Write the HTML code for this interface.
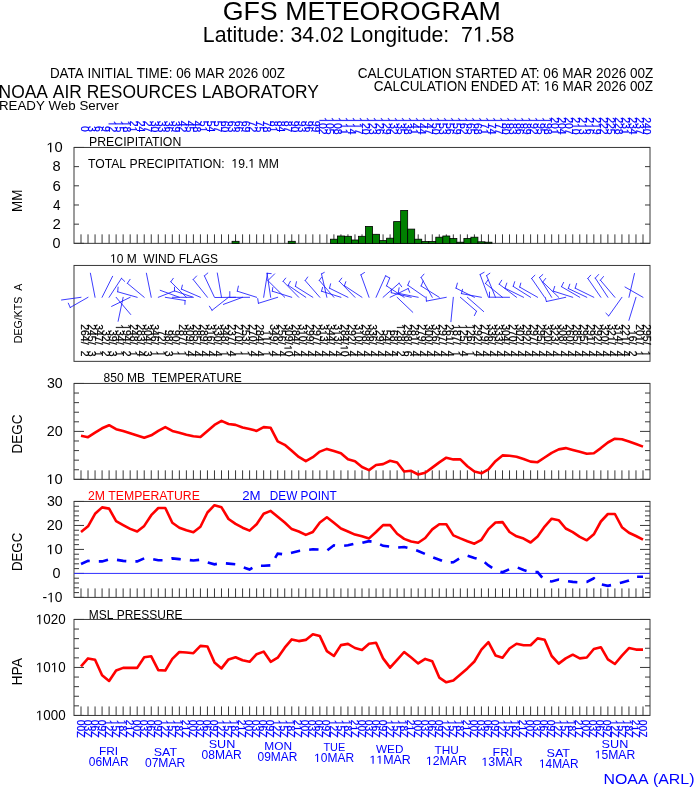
<!DOCTYPE html>
<html><head><meta charset="utf-8"><style>
html,body{margin:0;padding:0;background:#fff;width:694px;height:788px;overflow:hidden}
svg{display:block;will-change:transform}
text{font-family:"Liberation Sans",sans-serif}
</style></head><body>
<svg width="694" height="788" viewBox="0 0 694 788">
<rect width="694" height="788" fill="#fff"/>
<text transform="translate(222.66,19.60) scale(1.0154,1)" font-size="26.377" fill="#000">GFS&#160;METEOROGRAM</text>
<text transform="translate(202.79,41.60) scale(0.9812,1)" font-size="21.739" fill="#000">Latitude:&#160;34.02&#160;Longitude:&#160;&#160;7&#8199;.58</text>
<text transform="translate(49.93,77.85) scale(0.9309,1)" font-size="14.420" fill="#000">DATA&#160;INITIAL&#160;TIME:&#160;06&#160;MAR&#160;2026&#160;00Z</text>
<text transform="translate(-1.39,97.60) scale(0.9852,1)" font-size="17.681" fill="#000">NOAA&#160;AIR&#160;RESOURCES&#160;LABORATORY</text>
<text transform="translate(-1.07,109.80) scale(0.9784,1)" font-size="13.623" fill="#000">READY&#160;Web&#160;Server</text>
<text transform="translate(357.72,77.85) scale(0.9541,1)" font-size="14.203" fill="#000">CALCULATION&#160;STARTED&#160;AT:&#160;06&#160;MAR&#160;2026&#160;00Z</text>
<text transform="translate(373.73,90.80) scale(0.9790,1)" font-size="13.768" fill="#000">CALCULATION&#160;ENDED&#160;AT:&#160;&#8199;6&#160;MAR&#160;2026&#160;00Z</text>
<text transform="translate(80.60,125.90) rotate(90)" font-size="10.4" fill="#0000ff" text-anchor="start" stroke="#0000ff" stroke-width="0.22">0</text>
<text transform="translate(87.62,125.90) rotate(90)" font-size="10.4" fill="#0000ff" text-anchor="start" stroke="#0000ff" stroke-width="0.22">3</text>
<text transform="translate(94.65,125.90) rotate(90)" font-size="10.4" fill="#0000ff" text-anchor="start" stroke="#0000ff" stroke-width="0.22">6</text>
<text transform="translate(101.67,125.90) rotate(90)" font-size="10.4" fill="#0000ff" text-anchor="start" stroke="#0000ff" stroke-width="0.22">9</text>
<text transform="translate(108.70,120.80) rotate(90)" font-size="10.4" fill="#0000ff" text-anchor="start" stroke="#0000ff" stroke-width="0.22">&#8199;2</text>
<text transform="translate(115.72,120.80) rotate(90)" font-size="10.4" fill="#0000ff" text-anchor="start" stroke="#0000ff" stroke-width="0.22">&#8199;5</text>
<text transform="translate(122.75,120.80) rotate(90)" font-size="10.4" fill="#0000ff" text-anchor="start" stroke="#0000ff" stroke-width="0.22">&#8199;8</text>
<text transform="translate(129.78,120.80) rotate(90)" font-size="10.4" fill="#0000ff" text-anchor="start" stroke="#0000ff" stroke-width="0.22">2&#8199;</text>
<text transform="translate(136.80,120.80) rotate(90)" font-size="10.4" fill="#0000ff" text-anchor="start" stroke="#0000ff" stroke-width="0.22">24</text>
<text transform="translate(143.82,120.80) rotate(90)" font-size="10.4" fill="#0000ff" text-anchor="start" stroke="#0000ff" stroke-width="0.22">27</text>
<text transform="translate(150.85,120.80) rotate(90)" font-size="10.4" fill="#0000ff" text-anchor="start" stroke="#0000ff" stroke-width="0.22">30</text>
<text transform="translate(157.88,120.80) rotate(90)" font-size="10.4" fill="#0000ff" text-anchor="start" stroke="#0000ff" stroke-width="0.22">33</text>
<text transform="translate(164.90,120.80) rotate(90)" font-size="10.4" fill="#0000ff" text-anchor="start" stroke="#0000ff" stroke-width="0.22">36</text>
<text transform="translate(171.92,120.80) rotate(90)" font-size="10.4" fill="#0000ff" text-anchor="start" stroke="#0000ff" stroke-width="0.22">39</text>
<text transform="translate(178.95,120.80) rotate(90)" font-size="10.4" fill="#0000ff" text-anchor="start" stroke="#0000ff" stroke-width="0.22">42</text>
<text transform="translate(185.97,120.80) rotate(90)" font-size="10.4" fill="#0000ff" text-anchor="start" stroke="#0000ff" stroke-width="0.22">45</text>
<text transform="translate(193.00,120.80) rotate(90)" font-size="10.4" fill="#0000ff" text-anchor="start" stroke="#0000ff" stroke-width="0.22">48</text>
<text transform="translate(200.03,120.80) rotate(90)" font-size="10.4" fill="#0000ff" text-anchor="start" stroke="#0000ff" stroke-width="0.22">5&#8199;</text>
<text transform="translate(207.05,120.80) rotate(90)" font-size="10.4" fill="#0000ff" text-anchor="start" stroke="#0000ff" stroke-width="0.22">54</text>
<text transform="translate(214.07,120.80) rotate(90)" font-size="10.4" fill="#0000ff" text-anchor="start" stroke="#0000ff" stroke-width="0.22">57</text>
<text transform="translate(221.10,120.80) rotate(90)" font-size="10.4" fill="#0000ff" text-anchor="start" stroke="#0000ff" stroke-width="0.22">60</text>
<text transform="translate(228.12,120.80) rotate(90)" font-size="10.4" fill="#0000ff" text-anchor="start" stroke="#0000ff" stroke-width="0.22">63</text>
<text transform="translate(235.15,120.80) rotate(90)" font-size="10.4" fill="#0000ff" text-anchor="start" stroke="#0000ff" stroke-width="0.22">66</text>
<text transform="translate(242.18,120.80) rotate(90)" font-size="10.4" fill="#0000ff" text-anchor="start" stroke="#0000ff" stroke-width="0.22">69</text>
<text transform="translate(249.20,120.80) rotate(90)" font-size="10.4" fill="#0000ff" text-anchor="start" stroke="#0000ff" stroke-width="0.22">72</text>
<text transform="translate(256.23,120.80) rotate(90)" font-size="10.4" fill="#0000ff" text-anchor="start" stroke="#0000ff" stroke-width="0.22">75</text>
<text transform="translate(263.25,120.80) rotate(90)" font-size="10.4" fill="#0000ff" text-anchor="start" stroke="#0000ff" stroke-width="0.22">78</text>
<text transform="translate(270.28,120.80) rotate(90)" font-size="10.4" fill="#0000ff" text-anchor="start" stroke="#0000ff" stroke-width="0.22">8&#8199;</text>
<text transform="translate(277.30,120.80) rotate(90)" font-size="10.4" fill="#0000ff" text-anchor="start" stroke="#0000ff" stroke-width="0.22">84</text>
<text transform="translate(284.33,120.80) rotate(90)" font-size="10.4" fill="#0000ff" text-anchor="start" stroke="#0000ff" stroke-width="0.22">87</text>
<text transform="translate(291.35,120.80) rotate(90)" font-size="10.4" fill="#0000ff" text-anchor="start" stroke="#0000ff" stroke-width="0.22">90</text>
<text transform="translate(298.38,120.80) rotate(90)" font-size="10.4" fill="#0000ff" text-anchor="start" stroke="#0000ff" stroke-width="0.22">93</text>
<text transform="translate(305.40,120.80) rotate(90)" font-size="10.4" fill="#0000ff" text-anchor="start" stroke="#0000ff" stroke-width="0.22">96</text>
<text transform="translate(312.43,120.80) rotate(90)" font-size="10.4" fill="#0000ff" text-anchor="start" stroke="#0000ff" stroke-width="0.22">99</text>
<text transform="translate(319.45,117.30) rotate(90)" font-size="10.4" fill="#0000ff" text-anchor="start" stroke="#0000ff" stroke-width="0.22">&#8199;02</text>
<text transform="translate(326.48,117.30) rotate(90)" font-size="10.4" fill="#0000ff" text-anchor="start" stroke="#0000ff" stroke-width="0.22">&#8199;05</text>
<text transform="translate(333.50,117.30) rotate(90)" font-size="10.4" fill="#0000ff" text-anchor="start" stroke="#0000ff" stroke-width="0.22">&#8199;08</text>
<text transform="translate(340.53,117.30) rotate(90)" font-size="10.4" fill="#0000ff" text-anchor="start" stroke="#0000ff" stroke-width="0.22">&#8199;&#8199;&#8199;</text>
<text transform="translate(347.55,117.30) rotate(90)" font-size="10.4" fill="#0000ff" text-anchor="start" stroke="#0000ff" stroke-width="0.22">&#8199;&#8199;4</text>
<text transform="translate(354.58,117.30) rotate(90)" font-size="10.4" fill="#0000ff" text-anchor="start" stroke="#0000ff" stroke-width="0.22">&#8199;&#8199;7</text>
<text transform="translate(361.60,117.30) rotate(90)" font-size="10.4" fill="#0000ff" text-anchor="start" stroke="#0000ff" stroke-width="0.22">&#8199;20</text>
<text transform="translate(368.63,117.30) rotate(90)" font-size="10.4" fill="#0000ff" text-anchor="start" stroke="#0000ff" stroke-width="0.22">&#8199;23</text>
<text transform="translate(375.65,117.30) rotate(90)" font-size="10.4" fill="#0000ff" text-anchor="start" stroke="#0000ff" stroke-width="0.22">&#8199;26</text>
<text transform="translate(382.68,117.30) rotate(90)" font-size="10.4" fill="#0000ff" text-anchor="start" stroke="#0000ff" stroke-width="0.22">&#8199;29</text>
<text transform="translate(389.70,117.30) rotate(90)" font-size="10.4" fill="#0000ff" text-anchor="start" stroke="#0000ff" stroke-width="0.22">&#8199;32</text>
<text transform="translate(396.73,117.30) rotate(90)" font-size="10.4" fill="#0000ff" text-anchor="start" stroke="#0000ff" stroke-width="0.22">&#8199;35</text>
<text transform="translate(403.75,117.30) rotate(90)" font-size="10.4" fill="#0000ff" text-anchor="start" stroke="#0000ff" stroke-width="0.22">&#8199;38</text>
<text transform="translate(410.78,117.30) rotate(90)" font-size="10.4" fill="#0000ff" text-anchor="start" stroke="#0000ff" stroke-width="0.22">&#8199;4&#8199;</text>
<text transform="translate(417.80,117.30) rotate(90)" font-size="10.4" fill="#0000ff" text-anchor="start" stroke="#0000ff" stroke-width="0.22">&#8199;44</text>
<text transform="translate(424.83,117.30) rotate(90)" font-size="10.4" fill="#0000ff" text-anchor="start" stroke="#0000ff" stroke-width="0.22">&#8199;47</text>
<text transform="translate(431.85,117.30) rotate(90)" font-size="10.4" fill="#0000ff" text-anchor="start" stroke="#0000ff" stroke-width="0.22">&#8199;50</text>
<text transform="translate(438.88,117.30) rotate(90)" font-size="10.4" fill="#0000ff" text-anchor="start" stroke="#0000ff" stroke-width="0.22">&#8199;53</text>
<text transform="translate(445.90,117.30) rotate(90)" font-size="10.4" fill="#0000ff" text-anchor="start" stroke="#0000ff" stroke-width="0.22">&#8199;56</text>
<text transform="translate(452.93,117.30) rotate(90)" font-size="10.4" fill="#0000ff" text-anchor="start" stroke="#0000ff" stroke-width="0.22">&#8199;59</text>
<text transform="translate(459.95,117.30) rotate(90)" font-size="10.4" fill="#0000ff" text-anchor="start" stroke="#0000ff" stroke-width="0.22">&#8199;62</text>
<text transform="translate(466.98,117.30) rotate(90)" font-size="10.4" fill="#0000ff" text-anchor="start" stroke="#0000ff" stroke-width="0.22">&#8199;65</text>
<text transform="translate(474.00,117.30) rotate(90)" font-size="10.4" fill="#0000ff" text-anchor="start" stroke="#0000ff" stroke-width="0.22">&#8199;68</text>
<text transform="translate(481.03,117.30) rotate(90)" font-size="10.4" fill="#0000ff" text-anchor="start" stroke="#0000ff" stroke-width="0.22">&#8199;7&#8199;</text>
<text transform="translate(488.05,117.30) rotate(90)" font-size="10.4" fill="#0000ff" text-anchor="start" stroke="#0000ff" stroke-width="0.22">&#8199;74</text>
<text transform="translate(495.08,117.30) rotate(90)" font-size="10.4" fill="#0000ff" text-anchor="start" stroke="#0000ff" stroke-width="0.22">&#8199;77</text>
<text transform="translate(502.10,117.30) rotate(90)" font-size="10.4" fill="#0000ff" text-anchor="start" stroke="#0000ff" stroke-width="0.22">&#8199;80</text>
<text transform="translate(509.13,117.30) rotate(90)" font-size="10.4" fill="#0000ff" text-anchor="start" stroke="#0000ff" stroke-width="0.22">&#8199;83</text>
<text transform="translate(516.15,117.30) rotate(90)" font-size="10.4" fill="#0000ff" text-anchor="start" stroke="#0000ff" stroke-width="0.22">&#8199;86</text>
<text transform="translate(523.18,117.30) rotate(90)" font-size="10.4" fill="#0000ff" text-anchor="start" stroke="#0000ff" stroke-width="0.22">&#8199;89</text>
<text transform="translate(530.20,117.30) rotate(90)" font-size="10.4" fill="#0000ff" text-anchor="start" stroke="#0000ff" stroke-width="0.22">&#8199;92</text>
<text transform="translate(537.23,117.30) rotate(90)" font-size="10.4" fill="#0000ff" text-anchor="start" stroke="#0000ff" stroke-width="0.22">&#8199;95</text>
<text transform="translate(544.25,117.30) rotate(90)" font-size="10.4" fill="#0000ff" text-anchor="start" stroke="#0000ff" stroke-width="0.22">&#8199;98</text>
<text transform="translate(551.27,117.30) rotate(90)" font-size="10.4" fill="#0000ff" text-anchor="start" stroke="#0000ff" stroke-width="0.22">20&#8199;</text>
<text transform="translate(558.30,117.30) rotate(90)" font-size="10.4" fill="#0000ff" text-anchor="start" stroke="#0000ff" stroke-width="0.22">204</text>
<text transform="translate(565.33,117.30) rotate(90)" font-size="10.4" fill="#0000ff" text-anchor="start" stroke="#0000ff" stroke-width="0.22">207</text>
<text transform="translate(572.35,117.30) rotate(90)" font-size="10.4" fill="#0000ff" text-anchor="start" stroke="#0000ff" stroke-width="0.22">2&#8199;0</text>
<text transform="translate(579.38,117.30) rotate(90)" font-size="10.4" fill="#0000ff" text-anchor="start" stroke="#0000ff" stroke-width="0.22">2&#8199;3</text>
<text transform="translate(586.40,117.30) rotate(90)" font-size="10.4" fill="#0000ff" text-anchor="start" stroke="#0000ff" stroke-width="0.22">2&#8199;6</text>
<text transform="translate(593.43,117.30) rotate(90)" font-size="10.4" fill="#0000ff" text-anchor="start" stroke="#0000ff" stroke-width="0.22">2&#8199;9</text>
<text transform="translate(600.45,117.30) rotate(90)" font-size="10.4" fill="#0000ff" text-anchor="start" stroke="#0000ff" stroke-width="0.22">222</text>
<text transform="translate(607.48,117.30) rotate(90)" font-size="10.4" fill="#0000ff" text-anchor="start" stroke="#0000ff" stroke-width="0.22">225</text>
<text transform="translate(614.50,117.30) rotate(90)" font-size="10.4" fill="#0000ff" text-anchor="start" stroke="#0000ff" stroke-width="0.22">228</text>
<text transform="translate(621.53,117.30) rotate(90)" font-size="10.4" fill="#0000ff" text-anchor="start" stroke="#0000ff" stroke-width="0.22">23&#8199;</text>
<text transform="translate(628.55,117.30) rotate(90)" font-size="10.4" fill="#0000ff" text-anchor="start" stroke="#0000ff" stroke-width="0.22">234</text>
<text transform="translate(635.58,117.30) rotate(90)" font-size="10.4" fill="#0000ff" text-anchor="start" stroke="#0000ff" stroke-width="0.22">237</text>
<text transform="translate(642.60,117.30) rotate(90)" font-size="10.4" fill="#0000ff" text-anchor="start" stroke="#0000ff" stroke-width="0.22">240</text>
<rect x="74" y="147.45" width="576" height="95.9" fill="none" stroke="#383838" stroke-width="1"/>
<path d="M81.00 243.35V234.35M88.03 243.35V234.35M95.05 243.35V234.35M102.08 243.35V234.35M109.10 243.35V234.35M116.12 243.35V234.35M123.15 243.35V234.35M130.18 243.35V234.35M137.20 243.35V234.35M144.22 243.35V234.35M151.25 243.35V234.35M158.28 243.35V234.35M165.30 243.35V234.35M172.32 243.35V234.35M179.35 243.35V234.35M186.38 243.35V234.35M193.40 243.35V234.35M200.43 243.35V234.35M207.45 243.35V234.35M214.47 243.35V234.35M221.50 243.35V234.35M228.53 243.35V234.35M235.55 243.35V234.35M242.58 243.35V234.35M249.60 243.35V234.35M256.62 243.35V234.35M263.65 243.35V234.35M270.68 243.35V234.35M277.70 243.35V234.35M284.73 243.35V234.35M291.75 243.35V234.35M298.77 243.35V234.35M305.80 243.35V234.35M312.83 243.35V234.35M319.85 243.35V234.35M326.88 243.35V234.35M333.90 243.35V234.35M340.93 243.35V234.35M347.95 243.35V234.35M354.98 243.35V234.35M362.00 243.35V234.35M369.03 243.35V234.35M376.05 243.35V234.35M383.07 243.35V234.35M390.10 243.35V234.35M397.12 243.35V234.35M404.15 243.35V234.35M411.18 243.35V234.35M418.20 243.35V234.35M425.23 243.35V234.35M432.25 243.35V234.35M439.28 243.35V234.35M446.30 243.35V234.35M453.33 243.35V234.35M460.35 243.35V234.35M467.38 243.35V234.35M474.40 243.35V234.35M481.43 243.35V234.35M488.45 243.35V234.35M495.48 243.35V234.35M502.50 243.35V234.35M509.53 243.35V234.35M516.55 243.35V234.35M523.58 243.35V234.35M530.60 243.35V234.35M537.62 243.35V234.35M544.65 243.35V234.35M551.67 243.35V234.35M558.70 243.35V234.35M565.73 243.35V234.35M572.75 243.35V234.35M579.78 243.35V234.35M586.80 243.35V234.35M593.83 243.35V234.35M600.85 243.35V234.35M607.88 243.35V234.35M614.90 243.35V234.35M621.93 243.35V234.35M628.95 243.35V234.35M635.98 243.35V234.35M643.00 243.35V234.35" stroke="#383838" stroke-width="1" fill="none"/>
<path d="M74 243.35h10M650 243.35h-10M74 224.17h5M650 224.17h-5M74 204.99h5M650 204.99h-5M74 185.81h5M650 185.81h-5M74 166.63h5M650 166.63h-5M74 147.45h10M650 147.45h-10" stroke="#383838" stroke-width="1" fill="none"/>
<rect x="232.05" y="241.30" width="7.02" height="2.05" fill="#008000" stroke="#000" stroke-width="0.8"/>
<rect x="288.25" y="241.30" width="7.02" height="2.05" fill="#008000" stroke="#000" stroke-width="0.8"/>
<rect x="330.40" y="239.20" width="7.02" height="4.15" fill="#008000" stroke="#000" stroke-width="0.8"/>
<rect x="337.43" y="236.00" width="7.02" height="7.35" fill="#008000" stroke="#000" stroke-width="0.8"/>
<rect x="344.45" y="236.30" width="7.02" height="7.05" fill="#008000" stroke="#000" stroke-width="0.8"/>
<rect x="351.48" y="240.00" width="7.02" height="3.35" fill="#008000" stroke="#000" stroke-width="0.8"/>
<rect x="358.50" y="236.30" width="7.02" height="7.05" fill="#008000" stroke="#000" stroke-width="0.8"/>
<rect x="365.53" y="226.40" width="7.02" height="16.95" fill="#008000" stroke="#000" stroke-width="0.8"/>
<rect x="372.55" y="234.30" width="7.02" height="9.05" fill="#008000" stroke="#000" stroke-width="0.8"/>
<rect x="379.57" y="240.60" width="7.02" height="2.75" fill="#008000" stroke="#000" stroke-width="0.8"/>
<rect x="386.60" y="238.20" width="7.02" height="5.15" fill="#008000" stroke="#000" stroke-width="0.8"/>
<rect x="393.62" y="221.60" width="7.02" height="21.75" fill="#008000" stroke="#000" stroke-width="0.8"/>
<rect x="400.65" y="210.40" width="7.02" height="32.95" fill="#008000" stroke="#000" stroke-width="0.8"/>
<rect x="407.68" y="229.10" width="7.02" height="14.25" fill="#008000" stroke="#000" stroke-width="0.8"/>
<rect x="414.70" y="239.20" width="7.02" height="4.15" fill="#008000" stroke="#000" stroke-width="0.8"/>
<rect x="421.73" y="241.50" width="7.02" height="1.85" fill="#008000" stroke="#000" stroke-width="0.8"/>
<rect x="428.75" y="241.50" width="7.02" height="1.85" fill="#008000" stroke="#000" stroke-width="0.8"/>
<rect x="435.78" y="237.20" width="7.02" height="6.15" fill="#008000" stroke="#000" stroke-width="0.8"/>
<rect x="442.80" y="236.00" width="7.02" height="7.35" fill="#008000" stroke="#000" stroke-width="0.8"/>
<rect x="449.83" y="238.50" width="7.02" height="4.85" fill="#008000" stroke="#000" stroke-width="0.8"/>
<rect x="456.85" y="242.20" width="7.02" height="1.15" fill="#008000" stroke="#000" stroke-width="0.8"/>
<rect x="463.88" y="238.50" width="7.02" height="4.85" fill="#008000" stroke="#000" stroke-width="0.8"/>
<rect x="470.90" y="237.20" width="7.02" height="6.15" fill="#008000" stroke="#000" stroke-width="0.8"/>
<rect x="477.93" y="241.80" width="7.02" height="1.55" fill="#008000" stroke="#000" stroke-width="0.8"/>
<rect x="484.95" y="242.20" width="7.02" height="1.15" fill="#008000" stroke="#000" stroke-width="0.8"/>
<text transform="translate(52.62,248.11) scale(1.0415,1)" font-size="13.803" fill="#000">0</text>
<text transform="translate(52.45,229.07) scale(1.0714,1)" font-size="14.000" fill="#000">2</text>
<text transform="translate(52.93,210.03) scale(0.9388,1)" font-size="14.412" fill="#000">4</text>
<text transform="translate(52.45,190.57) scale(1.0867,1)" font-size="13.803" fill="#000">6</text>
<text transform="translate(52.61,171.39) scale(1.0636,1)" font-size="13.803" fill="#000">8</text>
<text transform="translate(46.32,152.21) scale(1.0684,1)" font-size="13.803" fill="#000">&#8199;0</text>
<text transform="translate(21.90,211.97) rotate(-90) scale(0.9485,1)" font-size="14.058" fill="#000">MM</text>
<text transform="translate(89.07,145.80) scale(0.9838,1)" font-size="12.464" fill="#000">PRECIPITATION</text>
<text transform="translate(87.91,167.70) scale(0.9796,1)" font-size="12.464" fill="#000">TOTAL&#160;PRECIPITATION:&#160;&#160;&#8199;9.&#8199;&#160;MM</text>
<rect x="74" y="265.45" width="576" height="95.90000000000003" fill="none" stroke="#383838" stroke-width="1"/>
<text transform="translate(110.04,262.70) scale(0.9861,1)" font-size="12.174" fill="#000">&#8199;0&#160;M&#160;&#160;WIND&#160;FLAGS</text>
<text transform="translate(22.19,343.25) rotate(-90) scale(0.9464,1)" font-size="11.216" fill="#000">DEG/KTS&#160;&#160;A</text>
<rect x="74" y="383.45" width="576" height="95.90000000000003" fill="none" stroke="#383838" stroke-width="1"/>
<path d="M81.00 479.35V470.35M88.03 479.35V470.35M95.05 479.35V470.35M102.08 479.35V470.35M109.10 479.35V470.35M116.12 479.35V470.35M123.15 479.35V470.35M130.18 479.35V470.35M137.20 479.35V470.35M144.22 479.35V470.35M151.25 479.35V470.35M158.28 479.35V470.35M165.30 479.35V470.35M172.32 479.35V470.35M179.35 479.35V470.35M186.38 479.35V470.35M193.40 479.35V470.35M200.43 479.35V470.35M207.45 479.35V470.35M214.47 479.35V470.35M221.50 479.35V470.35M228.53 479.35V470.35M235.55 479.35V470.35M242.58 479.35V470.35M249.60 479.35V470.35M256.62 479.35V470.35M263.65 479.35V470.35M270.68 479.35V470.35M277.70 479.35V470.35M284.73 479.35V470.35M291.75 479.35V470.35M298.77 479.35V470.35M305.80 479.35V470.35M312.83 479.35V470.35M319.85 479.35V470.35M326.88 479.35V470.35M333.90 479.35V470.35M340.93 479.35V470.35M347.95 479.35V470.35M354.98 479.35V470.35M362.00 479.35V470.35M369.03 479.35V470.35M376.05 479.35V470.35M383.07 479.35V470.35M390.10 479.35V470.35M397.12 479.35V470.35M404.15 479.35V470.35M411.18 479.35V470.35M418.20 479.35V470.35M425.23 479.35V470.35M432.25 479.35V470.35M439.28 479.35V470.35M446.30 479.35V470.35M453.33 479.35V470.35M460.35 479.35V470.35M467.38 479.35V470.35M474.40 479.35V470.35M481.43 479.35V470.35M488.45 479.35V470.35M495.48 479.35V470.35M502.50 479.35V470.35M509.53 479.35V470.35M516.55 479.35V470.35M523.58 479.35V470.35M530.60 479.35V470.35M537.62 479.35V470.35M544.65 479.35V470.35M551.67 479.35V470.35M558.70 479.35V470.35M565.73 479.35V470.35M572.75 479.35V470.35M579.78 479.35V470.35M586.80 479.35V470.35M593.83 479.35V470.35M600.85 479.35V470.35M607.88 479.35V470.35M614.90 479.35V470.35M621.93 479.35V470.35M628.95 479.35V470.35M635.98 479.35V470.35M643.00 479.35V470.35" stroke="#383838" stroke-width="1" fill="none"/>
<path d="M74 479.35h10M650 479.35h-10M74 469.76h5M650 469.76h-5M74 460.17h5M650 460.17h-5M74 450.58h5M650 450.58h-5M74 440.99h5M650 440.99h-5M74 431.40h10M650 431.40h-10M74 421.81h5M650 421.81h-5M74 412.22h5M650 412.22h-5M74 402.63h5M650 402.63h-5M74 393.04h5M650 393.04h-5M74 383.45h10M650 383.45h-10" stroke="#383838" stroke-width="1" fill="none"/>
<text transform="translate(46.32,484.11) scale(1.0684,1)" font-size="13.803" fill="#000">&#8199;0</text>
<text transform="translate(46.78,436.16) scale(1.0370,1)" font-size="13.803" fill="#000">20</text>
<text transform="translate(46.93,388.21) scale(1.0269,1)" font-size="13.803" fill="#000">30</text>
<text transform="translate(22.06,453.38) rotate(-90) scale(0.9466,1)" font-size="14.225" fill="#000">DEGC</text>
<text transform="translate(103.62,381.80) scale(0.9663,1)" font-size="12.464" fill="#000">850&#160;MB&#160;&#160;TEMPERATURE</text>
<polyline points="81.00,435.80 88.03,437.20 95.05,432.70 102.08,428.30 109.10,425.20 116.12,429.20 123.15,431.00 130.18,433.20 137.20,435.40 144.22,437.70 151.25,435.30 158.28,430.90 165.30,427.10 172.32,430.90 179.35,432.70 186.38,434.70 193.40,436.30 200.43,437.00 207.45,430.90 214.47,424.90 221.50,420.90 228.53,424.00 235.55,424.90 242.58,427.50 249.60,428.90 256.62,430.90 263.65,427.10 270.68,427.80 277.70,441.30 284.73,444.80 291.75,450.80 298.77,456.90 305.80,461.20 312.83,457.20 319.85,451.60 326.88,448.90 333.90,451.10 340.93,453.20 347.95,459.30 354.98,461.20 362.00,467.00 369.03,470.10 376.05,465.00 383.07,464.10 390.10,460.80 397.12,462.50 404.15,471.50 411.18,470.80 418.20,474.50 425.23,472.70 432.25,467.60 439.28,462.40 446.30,457.70 453.33,459.40 460.35,459.40 467.38,466.30 474.40,471.50 481.43,473.30 488.45,469.30 495.48,461.20 502.50,455.40 509.53,455.80 516.55,456.70 523.58,459.00 530.60,461.60 537.62,462.20 544.65,457.50 551.67,452.80 558.70,449.40 565.73,448.10 572.75,450.00 579.78,451.80 586.80,453.70 593.83,453.20 600.85,448.10 607.88,442.50 614.90,438.70 621.93,439.30 628.95,441.50 635.98,444.00 643.00,446.60" fill="none" stroke="#ff0000" stroke-width="2.6" stroke-linejoin="round"/>
<rect x="74" y="501.45" width="576" height="95.94999999999999" fill="none" stroke="#383838" stroke-width="1"/>
<path d="M81.00 597.40V588.40M88.03 597.40V588.40M95.05 597.40V588.40M102.08 597.40V588.40M109.10 597.40V588.40M116.12 597.40V588.40M123.15 597.40V588.40M130.18 597.40V588.40M137.20 597.40V588.40M144.22 597.40V588.40M151.25 597.40V588.40M158.28 597.40V588.40M165.30 597.40V588.40M172.32 597.40V588.40M179.35 597.40V588.40M186.38 597.40V588.40M193.40 597.40V588.40M200.43 597.40V588.40M207.45 597.40V588.40M214.47 597.40V588.40M221.50 597.40V588.40M228.53 597.40V588.40M235.55 597.40V588.40M242.58 597.40V588.40M249.60 597.40V588.40M256.62 597.40V588.40M263.65 597.40V588.40M270.68 597.40V588.40M277.70 597.40V588.40M284.73 597.40V588.40M291.75 597.40V588.40M298.77 597.40V588.40M305.80 597.40V588.40M312.83 597.40V588.40M319.85 597.40V588.40M326.88 597.40V588.40M333.90 597.40V588.40M340.93 597.40V588.40M347.95 597.40V588.40M354.98 597.40V588.40M362.00 597.40V588.40M369.03 597.40V588.40M376.05 597.40V588.40M383.07 597.40V588.40M390.10 597.40V588.40M397.12 597.40V588.40M404.15 597.40V588.40M411.18 597.40V588.40M418.20 597.40V588.40M425.23 597.40V588.40M432.25 597.40V588.40M439.28 597.40V588.40M446.30 597.40V588.40M453.33 597.40V588.40M460.35 597.40V588.40M467.38 597.40V588.40M474.40 597.40V588.40M481.43 597.40V588.40M488.45 597.40V588.40M495.48 597.40V588.40M502.50 597.40V588.40M509.53 597.40V588.40M516.55 597.40V588.40M523.58 597.40V588.40M530.60 597.40V588.40M537.62 597.40V588.40M544.65 597.40V588.40M551.67 597.40V588.40M558.70 597.40V588.40M565.73 597.40V588.40M572.75 597.40V588.40M579.78 597.40V588.40M586.80 597.40V588.40M593.83 597.40V588.40M600.85 597.40V588.40M607.88 597.40V588.40M614.90 597.40V588.40M621.93 597.40V588.40M628.95 597.40V588.40M635.98 597.40V588.40M643.00 597.40V588.40" stroke="#383838" stroke-width="1" fill="none"/>
<path d="M74 597.40h10M650 597.40h-10M74 592.60h5M650 592.60h-5M74 587.80h5M650 587.80h-5M74 583.01h5M650 583.01h-5M74 578.21h5M650 578.21h-5M74 573.41h10M650 573.41h-10M74 568.62h5M650 568.62h-5M74 563.82h5M650 563.82h-5M74 559.02h5M650 559.02h-5M74 554.22h5M650 554.22h-5M74 549.42h10M650 549.42h-10M74 544.63h5M650 544.63h-5M74 539.83h5M650 539.83h-5M74 535.03h5M650 535.03h-5M74 530.24h5M650 530.24h-5M74 525.44h10M650 525.44h-10M74 520.64h5M650 520.64h-5M74 515.84h5M650 515.84h-5M74 511.04h5M650 511.04h-5M74 506.25h5M650 506.25h-5M74 501.45h10M650 501.45h-10" stroke="#383838" stroke-width="1" fill="none"/>
<text transform="translate(42.55,602.16) scale(0.9995,1)" font-size="13.803" fill="#000">-&#8199;0</text>
<text transform="translate(52.62,578.17) scale(1.0415,1)" font-size="13.803" fill="#000">0</text>
<text transform="translate(46.32,554.19) scale(1.0684,1)" font-size="13.803" fill="#000">&#8199;0</text>
<text transform="translate(46.78,530.20) scale(1.0370,1)" font-size="13.803" fill="#000">20</text>
<text transform="translate(46.93,506.21) scale(1.0269,1)" font-size="13.803" fill="#000">30</text>
<text transform="translate(22.06,571.06) rotate(-90) scale(0.9314,1)" font-size="14.225" fill="#000">DEGC</text>
<text transform="translate(87.99,499.70) scale(0.9937,1)" font-size="12.319" fill="#ff0000">2M&#160;TEMPERATURE</text>
<text transform="translate(242.24,499.70) scale(1.0759,1)" font-size="12.319" fill="#0000ff">2M</text>
<text transform="translate(269.75,499.70) scale(0.9592,1)" font-size="12.319" fill="#0000ff">DEW&#160;POINT</text>
<path d="M74 573.41H650" stroke="#3030ff" stroke-width="1"/>
<polyline points="81.00,532.00 88.03,526.30 95.05,513.80 102.08,507.40 109.10,508.60 116.12,521.10 123.15,525.10 130.18,528.90 137.20,531.50 144.22,525.90 151.25,515.20 158.28,508.00 165.30,508.00 172.32,522.80 179.35,527.70 186.38,530.30 193.40,532.20 200.43,526.80 207.45,512.50 214.47,505.20 221.50,507.30 228.53,519.00 235.55,523.90 242.58,527.70 249.60,530.60 256.62,524.20 263.65,513.80 270.68,510.90 277.70,516.80 284.73,522.50 291.75,529.10 298.77,531.50 305.80,534.90 312.83,532.00 319.85,522.50 326.88,517.30 333.90,522.80 340.93,528.50 347.95,531.50 354.98,534.60 362.00,536.30 369.03,538.40 376.05,532.00 383.07,525.10 390.10,525.10 397.12,533.70 404.15,538.90 411.18,541.50 418.20,542.80 425.23,538.00 432.25,529.40 439.28,524.20 446.30,524.20 453.33,535.40 460.35,538.40 467.38,541.20 474.40,543.70 481.43,539.80 488.45,529.10 495.48,522.50 502.50,522.10 509.53,532.00 516.55,536.30 523.58,538.60 530.60,542.50 537.62,536.50 544.65,526.60 551.67,518.70 558.70,520.20 565.73,528.50 572.75,532.20 579.78,536.90 586.80,540.30 593.83,534.30 600.85,521.50 607.88,514.00 614.90,514.00 621.93,527.20 628.95,532.80 635.98,536.00 643.00,539.70" fill="none" stroke="#ff0000" stroke-width="2.6" stroke-linejoin="round"/>
<polyline points="81.00,564.00 88.03,560.90 95.05,561.40 102.08,561.40 109.10,559.30 116.12,559.70 123.15,560.90 130.18,561.40 137.20,561.40 144.22,558.40 151.25,558.80 158.28,560.20 165.30,560.20 172.32,558.40 179.35,559.10 186.38,559.70 193.40,560.50 200.43,559.70 207.45,562.30 214.47,564.30 221.50,563.10 228.53,563.60 235.55,564.30 242.58,567.00 249.60,569.50 256.62,565.70 263.65,565.70 270.68,565.40 277.70,553.60 284.73,554.50 291.75,552.70 298.77,551.00 305.80,550.10 312.83,549.30 319.85,549.60 326.88,550.70 333.90,545.30 340.93,546.20 347.95,545.30 354.98,543.60 362.00,542.90 369.03,541.20 376.05,542.40 383.07,545.80 390.10,546.70 397.12,547.60 404.15,547.00 411.18,548.60 418.20,551.00 425.23,554.00 432.25,557.10 439.28,559.70 446.30,562.60 453.33,562.30 460.35,557.90 467.38,555.70 474.40,557.90 481.43,559.70 488.45,565.40 495.48,570.00 502.50,572.30 509.53,569.20 516.55,567.10 523.58,570.00 530.60,572.10 537.62,572.10 544.65,580.60 551.67,581.50 558.70,579.60 565.73,580.90 572.75,581.90 579.78,582.40 586.80,581.90 593.83,578.30 600.85,584.30 607.88,585.80 614.90,584.30 621.93,582.40 628.95,580.60 635.98,576.80 643.00,576.80" fill="none" stroke="#0000ff" stroke-width="2.6" stroke-dasharray="9.4 9.1"/>
<rect x="74" y="619.45" width="576" height="96.0" fill="none" stroke="#383838" stroke-width="1"/>
<path d="M81.00 715.45V706.45M88.03 715.45V706.45M95.05 715.45V706.45M102.08 715.45V706.45M109.10 715.45V706.45M116.12 715.45V706.45M123.15 715.45V706.45M130.18 715.45V706.45M137.20 715.45V706.45M144.22 715.45V706.45M151.25 715.45V706.45M158.28 715.45V706.45M165.30 715.45V706.45M172.32 715.45V706.45M179.35 715.45V706.45M186.38 715.45V706.45M193.40 715.45V706.45M200.43 715.45V706.45M207.45 715.45V706.45M214.47 715.45V706.45M221.50 715.45V706.45M228.53 715.45V706.45M235.55 715.45V706.45M242.58 715.45V706.45M249.60 715.45V706.45M256.62 715.45V706.45M263.65 715.45V706.45M270.68 715.45V706.45M277.70 715.45V706.45M284.73 715.45V706.45M291.75 715.45V706.45M298.77 715.45V706.45M305.80 715.45V706.45M312.83 715.45V706.45M319.85 715.45V706.45M326.88 715.45V706.45M333.90 715.45V706.45M340.93 715.45V706.45M347.95 715.45V706.45M354.98 715.45V706.45M362.00 715.45V706.45M369.03 715.45V706.45M376.05 715.45V706.45M383.07 715.45V706.45M390.10 715.45V706.45M397.12 715.45V706.45M404.15 715.45V706.45M411.18 715.45V706.45M418.20 715.45V706.45M425.23 715.45V706.45M432.25 715.45V706.45M439.28 715.45V706.45M446.30 715.45V706.45M453.33 715.45V706.45M460.35 715.45V706.45M467.38 715.45V706.45M474.40 715.45V706.45M481.43 715.45V706.45M488.45 715.45V706.45M495.48 715.45V706.45M502.50 715.45V706.45M509.53 715.45V706.45M516.55 715.45V706.45M523.58 715.45V706.45M530.60 715.45V706.45M537.62 715.45V706.45M544.65 715.45V706.45M551.67 715.45V706.45M558.70 715.45V706.45M565.73 715.45V706.45M572.75 715.45V706.45M579.78 715.45V706.45M586.80 715.45V706.45M593.83 715.45V706.45M600.85 715.45V706.45M607.88 715.45V706.45M614.90 715.45V706.45M621.93 715.45V706.45M628.95 715.45V706.45M635.98 715.45V706.45M643.00 715.45V706.45" stroke="#383838" stroke-width="1" fill="none"/>
<path d="M74 715.45h10M650 715.45h-10M74 705.85h5M650 705.85h-5M74 696.25h5M650 696.25h-5M74 686.65h5M650 686.65h-5M74 677.05h5M650 677.05h-5M74 667.45h10M650 667.45h-10M74 657.85h5M650 657.85h-5M74 648.25h5M650 648.25h-5M74 638.65h5M650 638.65h-5M74 629.05h5M650 629.05h-5M74 619.45h10M650 619.45h-10" stroke="#383838" stroke-width="1" fill="none"/>
<text transform="translate(35.83,720.21) scale(0.9694,1)" font-size="13.803" fill="#000">&#8199;000</text>
<text transform="translate(35.83,672.21) scale(0.9694,1)" font-size="13.803" fill="#000">&#8199;0&#8199;0</text>
<text transform="translate(35.83,624.21) scale(0.9694,1)" font-size="13.803" fill="#000">&#8199;020</text>
<text transform="translate(22.20,685.51) rotate(-90) scale(0.9492,1)" font-size="14.638" fill="#000">HPA</text>
<text transform="translate(88.84,618.70) scale(0.9539,1)" font-size="12.536" fill="#000">MSL&#160;PRESSURE</text>
<polyline points="81.00,666.30 88.03,658.40 95.05,659.80 102.08,675.30 109.10,680.90 116.12,670.50 123.15,667.90 130.18,667.90 137.20,667.90 144.22,657.20 151.25,656.30 158.28,670.10 165.30,670.50 172.32,658.90 179.35,652.00 186.38,652.50 193.40,653.20 200.43,645.90 207.45,646.50 214.47,662.40 221.50,668.40 228.53,659.40 235.55,657.20 242.58,660.30 249.60,661.80 256.62,654.20 263.65,651.60 270.68,661.80 277.70,657.70 284.73,647.70 291.75,639.40 298.77,641.10 305.80,639.90 312.83,634.20 319.85,636.10 326.88,651.10 333.90,656.00 340.93,645.10 347.95,643.90 354.98,648.00 362.00,649.90 369.03,643.70 376.05,642.80 383.07,658.40 390.10,667.60 397.12,659.80 404.15,652.00 411.18,657.60 418.20,663.40 425.23,658.90 432.25,661.20 439.28,677.60 446.30,682.30 453.33,680.50 460.35,674.50 467.38,668.40 474.40,661.50 481.43,649.70 488.45,642.10 495.48,655.40 502.50,657.70 509.53,648.50 516.55,643.70 523.58,645.20 530.60,645.30 537.62,638.40 544.65,639.70 551.67,656.00 558.70,663.60 565.73,658.40 572.75,654.70 579.78,658.40 586.80,657.50 593.83,649.00 600.85,647.20 607.88,659.30 614.90,664.00 621.93,655.60 628.95,648.10 635.98,649.60 643.00,649.60" fill="none" stroke="#ff0000" stroke-width="2.6" stroke-linejoin="round"/>
<text transform="translate(76.60,719.80) rotate(90)" font-size="10.3" fill="#0000ff" text-anchor="start" stroke="#0000ff" stroke-width="0.22">00Z</text>
<text transform="translate(83.62,719.80) rotate(90)" font-size="10.3" fill="#0000ff" text-anchor="start" stroke="#0000ff" stroke-width="0.22">03Z</text>
<text transform="translate(90.65,719.80) rotate(90)" font-size="10.3" fill="#0000ff" text-anchor="start" stroke="#0000ff" stroke-width="0.22">06Z</text>
<text transform="translate(97.67,719.80) rotate(90)" font-size="10.3" fill="#0000ff" text-anchor="start" stroke="#0000ff" stroke-width="0.22">09Z</text>
<text transform="translate(104.70,719.80) rotate(90)" font-size="10.3" fill="#0000ff" text-anchor="start" stroke="#0000ff" stroke-width="0.22">&#8199;2Z</text>
<text transform="translate(111.72,719.80) rotate(90)" font-size="10.3" fill="#0000ff" text-anchor="start" stroke="#0000ff" stroke-width="0.22">&#8199;5Z</text>
<text transform="translate(118.75,719.80) rotate(90)" font-size="10.3" fill="#0000ff" text-anchor="start" stroke="#0000ff" stroke-width="0.22">&#8199;8Z</text>
<text transform="translate(125.78,719.80) rotate(90)" font-size="10.3" fill="#0000ff" text-anchor="start" stroke="#0000ff" stroke-width="0.22">2&#8199;Z</text>
<text transform="translate(132.80,719.80) rotate(90)" font-size="10.3" fill="#0000ff" text-anchor="start" stroke="#0000ff" stroke-width="0.22">00Z</text>
<text transform="translate(139.82,719.80) rotate(90)" font-size="10.3" fill="#0000ff" text-anchor="start" stroke="#0000ff" stroke-width="0.22">03Z</text>
<text transform="translate(146.85,719.80) rotate(90)" font-size="10.3" fill="#0000ff" text-anchor="start" stroke="#0000ff" stroke-width="0.22">06Z</text>
<text transform="translate(153.88,719.80) rotate(90)" font-size="10.3" fill="#0000ff" text-anchor="start" stroke="#0000ff" stroke-width="0.22">09Z</text>
<text transform="translate(160.90,719.80) rotate(90)" font-size="10.3" fill="#0000ff" text-anchor="start" stroke="#0000ff" stroke-width="0.22">&#8199;2Z</text>
<text transform="translate(167.92,719.80) rotate(90)" font-size="10.3" fill="#0000ff" text-anchor="start" stroke="#0000ff" stroke-width="0.22">&#8199;5Z</text>
<text transform="translate(174.95,719.80) rotate(90)" font-size="10.3" fill="#0000ff" text-anchor="start" stroke="#0000ff" stroke-width="0.22">&#8199;8Z</text>
<text transform="translate(181.97,719.80) rotate(90)" font-size="10.3" fill="#0000ff" text-anchor="start" stroke="#0000ff" stroke-width="0.22">2&#8199;Z</text>
<text transform="translate(189.00,719.80) rotate(90)" font-size="10.3" fill="#0000ff" text-anchor="start" stroke="#0000ff" stroke-width="0.22">00Z</text>
<text transform="translate(196.03,719.80) rotate(90)" font-size="10.3" fill="#0000ff" text-anchor="start" stroke="#0000ff" stroke-width="0.22">03Z</text>
<text transform="translate(203.05,719.80) rotate(90)" font-size="10.3" fill="#0000ff" text-anchor="start" stroke="#0000ff" stroke-width="0.22">06Z</text>
<text transform="translate(210.07,719.80) rotate(90)" font-size="10.3" fill="#0000ff" text-anchor="start" stroke="#0000ff" stroke-width="0.22">09Z</text>
<text transform="translate(217.10,719.80) rotate(90)" font-size="10.3" fill="#0000ff" text-anchor="start" stroke="#0000ff" stroke-width="0.22">&#8199;2Z</text>
<text transform="translate(224.12,719.80) rotate(90)" font-size="10.3" fill="#0000ff" text-anchor="start" stroke="#0000ff" stroke-width="0.22">&#8199;5Z</text>
<text transform="translate(231.15,719.80) rotate(90)" font-size="10.3" fill="#0000ff" text-anchor="start" stroke="#0000ff" stroke-width="0.22">&#8199;8Z</text>
<text transform="translate(238.18,719.80) rotate(90)" font-size="10.3" fill="#0000ff" text-anchor="start" stroke="#0000ff" stroke-width="0.22">2&#8199;Z</text>
<text transform="translate(245.20,719.80) rotate(90)" font-size="10.3" fill="#0000ff" text-anchor="start" stroke="#0000ff" stroke-width="0.22">00Z</text>
<text transform="translate(252.22,719.80) rotate(90)" font-size="10.3" fill="#0000ff" text-anchor="start" stroke="#0000ff" stroke-width="0.22">03Z</text>
<text transform="translate(259.25,719.80) rotate(90)" font-size="10.3" fill="#0000ff" text-anchor="start" stroke="#0000ff" stroke-width="0.22">06Z</text>
<text transform="translate(266.28,719.80) rotate(90)" font-size="10.3" fill="#0000ff" text-anchor="start" stroke="#0000ff" stroke-width="0.22">09Z</text>
<text transform="translate(273.30,719.80) rotate(90)" font-size="10.3" fill="#0000ff" text-anchor="start" stroke="#0000ff" stroke-width="0.22">&#8199;2Z</text>
<text transform="translate(280.33,719.80) rotate(90)" font-size="10.3" fill="#0000ff" text-anchor="start" stroke="#0000ff" stroke-width="0.22">&#8199;5Z</text>
<text transform="translate(287.35,719.80) rotate(90)" font-size="10.3" fill="#0000ff" text-anchor="start" stroke="#0000ff" stroke-width="0.22">&#8199;8Z</text>
<text transform="translate(294.38,719.80) rotate(90)" font-size="10.3" fill="#0000ff" text-anchor="start" stroke="#0000ff" stroke-width="0.22">2&#8199;Z</text>
<text transform="translate(301.40,719.80) rotate(90)" font-size="10.3" fill="#0000ff" text-anchor="start" stroke="#0000ff" stroke-width="0.22">00Z</text>
<text transform="translate(308.43,719.80) rotate(90)" font-size="10.3" fill="#0000ff" text-anchor="start" stroke="#0000ff" stroke-width="0.22">03Z</text>
<text transform="translate(315.45,719.80) rotate(90)" font-size="10.3" fill="#0000ff" text-anchor="start" stroke="#0000ff" stroke-width="0.22">06Z</text>
<text transform="translate(322.48,719.80) rotate(90)" font-size="10.3" fill="#0000ff" text-anchor="start" stroke="#0000ff" stroke-width="0.22">09Z</text>
<text transform="translate(329.50,719.80) rotate(90)" font-size="10.3" fill="#0000ff" text-anchor="start" stroke="#0000ff" stroke-width="0.22">&#8199;2Z</text>
<text transform="translate(336.53,719.80) rotate(90)" font-size="10.3" fill="#0000ff" text-anchor="start" stroke="#0000ff" stroke-width="0.22">&#8199;5Z</text>
<text transform="translate(343.55,719.80) rotate(90)" font-size="10.3" fill="#0000ff" text-anchor="start" stroke="#0000ff" stroke-width="0.22">&#8199;8Z</text>
<text transform="translate(350.58,719.80) rotate(90)" font-size="10.3" fill="#0000ff" text-anchor="start" stroke="#0000ff" stroke-width="0.22">2&#8199;Z</text>
<text transform="translate(357.60,719.80) rotate(90)" font-size="10.3" fill="#0000ff" text-anchor="start" stroke="#0000ff" stroke-width="0.22">00Z</text>
<text transform="translate(364.63,719.80) rotate(90)" font-size="10.3" fill="#0000ff" text-anchor="start" stroke="#0000ff" stroke-width="0.22">03Z</text>
<text transform="translate(371.65,719.80) rotate(90)" font-size="10.3" fill="#0000ff" text-anchor="start" stroke="#0000ff" stroke-width="0.22">06Z</text>
<text transform="translate(378.68,719.80) rotate(90)" font-size="10.3" fill="#0000ff" text-anchor="start" stroke="#0000ff" stroke-width="0.22">09Z</text>
<text transform="translate(385.70,719.80) rotate(90)" font-size="10.3" fill="#0000ff" text-anchor="start" stroke="#0000ff" stroke-width="0.22">&#8199;2Z</text>
<text transform="translate(392.73,719.80) rotate(90)" font-size="10.3" fill="#0000ff" text-anchor="start" stroke="#0000ff" stroke-width="0.22">&#8199;5Z</text>
<text transform="translate(399.75,719.80) rotate(90)" font-size="10.3" fill="#0000ff" text-anchor="start" stroke="#0000ff" stroke-width="0.22">&#8199;8Z</text>
<text transform="translate(406.78,719.80) rotate(90)" font-size="10.3" fill="#0000ff" text-anchor="start" stroke="#0000ff" stroke-width="0.22">2&#8199;Z</text>
<text transform="translate(413.80,719.80) rotate(90)" font-size="10.3" fill="#0000ff" text-anchor="start" stroke="#0000ff" stroke-width="0.22">00Z</text>
<text transform="translate(420.83,719.80) rotate(90)" font-size="10.3" fill="#0000ff" text-anchor="start" stroke="#0000ff" stroke-width="0.22">03Z</text>
<text transform="translate(427.85,719.80) rotate(90)" font-size="10.3" fill="#0000ff" text-anchor="start" stroke="#0000ff" stroke-width="0.22">06Z</text>
<text transform="translate(434.88,719.80) rotate(90)" font-size="10.3" fill="#0000ff" text-anchor="start" stroke="#0000ff" stroke-width="0.22">09Z</text>
<text transform="translate(441.90,719.80) rotate(90)" font-size="10.3" fill="#0000ff" text-anchor="start" stroke="#0000ff" stroke-width="0.22">&#8199;2Z</text>
<text transform="translate(448.93,719.80) rotate(90)" font-size="10.3" fill="#0000ff" text-anchor="start" stroke="#0000ff" stroke-width="0.22">&#8199;5Z</text>
<text transform="translate(455.95,719.80) rotate(90)" font-size="10.3" fill="#0000ff" text-anchor="start" stroke="#0000ff" stroke-width="0.22">&#8199;8Z</text>
<text transform="translate(462.98,719.80) rotate(90)" font-size="10.3" fill="#0000ff" text-anchor="start" stroke="#0000ff" stroke-width="0.22">2&#8199;Z</text>
<text transform="translate(470.00,719.80) rotate(90)" font-size="10.3" fill="#0000ff" text-anchor="start" stroke="#0000ff" stroke-width="0.22">00Z</text>
<text transform="translate(477.03,719.80) rotate(90)" font-size="10.3" fill="#0000ff" text-anchor="start" stroke="#0000ff" stroke-width="0.22">03Z</text>
<text transform="translate(484.05,719.80) rotate(90)" font-size="10.3" fill="#0000ff" text-anchor="start" stroke="#0000ff" stroke-width="0.22">06Z</text>
<text transform="translate(491.08,719.80) rotate(90)" font-size="10.3" fill="#0000ff" text-anchor="start" stroke="#0000ff" stroke-width="0.22">09Z</text>
<text transform="translate(498.10,719.80) rotate(90)" font-size="10.3" fill="#0000ff" text-anchor="start" stroke="#0000ff" stroke-width="0.22">&#8199;2Z</text>
<text transform="translate(505.13,719.80) rotate(90)" font-size="10.3" fill="#0000ff" text-anchor="start" stroke="#0000ff" stroke-width="0.22">&#8199;5Z</text>
<text transform="translate(512.15,719.80) rotate(90)" font-size="10.3" fill="#0000ff" text-anchor="start" stroke="#0000ff" stroke-width="0.22">&#8199;8Z</text>
<text transform="translate(519.18,719.80) rotate(90)" font-size="10.3" fill="#0000ff" text-anchor="start" stroke="#0000ff" stroke-width="0.22">2&#8199;Z</text>
<text transform="translate(526.20,719.80) rotate(90)" font-size="10.3" fill="#0000ff" text-anchor="start" stroke="#0000ff" stroke-width="0.22">00Z</text>
<text transform="translate(533.23,719.80) rotate(90)" font-size="10.3" fill="#0000ff" text-anchor="start" stroke="#0000ff" stroke-width="0.22">03Z</text>
<text transform="translate(540.25,719.80) rotate(90)" font-size="10.3" fill="#0000ff" text-anchor="start" stroke="#0000ff" stroke-width="0.22">06Z</text>
<text transform="translate(547.27,719.80) rotate(90)" font-size="10.3" fill="#0000ff" text-anchor="start" stroke="#0000ff" stroke-width="0.22">09Z</text>
<text transform="translate(554.30,719.80) rotate(90)" font-size="10.3" fill="#0000ff" text-anchor="start" stroke="#0000ff" stroke-width="0.22">&#8199;2Z</text>
<text transform="translate(561.33,719.80) rotate(90)" font-size="10.3" fill="#0000ff" text-anchor="start" stroke="#0000ff" stroke-width="0.22">&#8199;5Z</text>
<text transform="translate(568.35,719.80) rotate(90)" font-size="10.3" fill="#0000ff" text-anchor="start" stroke="#0000ff" stroke-width="0.22">&#8199;8Z</text>
<text transform="translate(575.38,719.80) rotate(90)" font-size="10.3" fill="#0000ff" text-anchor="start" stroke="#0000ff" stroke-width="0.22">2&#8199;Z</text>
<text transform="translate(582.40,719.80) rotate(90)" font-size="10.3" fill="#0000ff" text-anchor="start" stroke="#0000ff" stroke-width="0.22">00Z</text>
<text transform="translate(589.43,719.80) rotate(90)" font-size="10.3" fill="#0000ff" text-anchor="start" stroke="#0000ff" stroke-width="0.22">03Z</text>
<text transform="translate(596.45,719.80) rotate(90)" font-size="10.3" fill="#0000ff" text-anchor="start" stroke="#0000ff" stroke-width="0.22">06Z</text>
<text transform="translate(603.48,719.80) rotate(90)" font-size="10.3" fill="#0000ff" text-anchor="start" stroke="#0000ff" stroke-width="0.22">09Z</text>
<text transform="translate(610.50,719.80) rotate(90)" font-size="10.3" fill="#0000ff" text-anchor="start" stroke="#0000ff" stroke-width="0.22">&#8199;2Z</text>
<text transform="translate(617.53,719.80) rotate(90)" font-size="10.3" fill="#0000ff" text-anchor="start" stroke="#0000ff" stroke-width="0.22">&#8199;5Z</text>
<text transform="translate(624.55,719.80) rotate(90)" font-size="10.3" fill="#0000ff" text-anchor="start" stroke="#0000ff" stroke-width="0.22">&#8199;8Z</text>
<text transform="translate(631.58,719.80) rotate(90)" font-size="10.3" fill="#0000ff" text-anchor="start" stroke="#0000ff" stroke-width="0.22">2&#8199;Z</text>
<text transform="translate(638.60,719.80) rotate(90)" font-size="10.3" fill="#0000ff" text-anchor="start" stroke="#0000ff" stroke-width="0.22">00Z</text>
<text transform="translate(98.94,755.25) scale(1.0175,1)" font-size="11.739" fill="#0000ff">FRI</text>
<text transform="translate(88.72,765.50) scale(1.0103,1)" font-size="11.884" fill="#0000ff">06MAR</text>
<text transform="translate(153.78,756.40) scale(1.0601,1)" font-size="11.739" fill="#0000ff">SAT</text>
<text transform="translate(144.92,767.30) scale(1.0181,1)" font-size="11.884" fill="#0000ff">07MAR</text>
<text transform="translate(208.67,747.60) scale(1.0756,1)" font-size="11.739" fill="#0000ff">SUN</text>
<text transform="translate(201.62,758.50) scale(1.0129,1)" font-size="11.884" fill="#0000ff">08MAR</text>
<text transform="translate(264.25,749.80) scale(1.0167,1)" font-size="11.739" fill="#0000ff">MON</text>
<text transform="translate(257.52,760.70) scale(1.0077,1)" font-size="11.884" fill="#0000ff">09MAR</text>
<text transform="translate(323.38,750.90) scale(0.9309,1)" font-size="11.739" fill="#0000ff">TUE</text>
<text transform="translate(314.04,762.00) scale(1.0098,1)" font-size="11.884" fill="#0000ff">&#8199;0MAR</text>
<text transform="translate(375.98,752.90) scale(1.0020,1)" font-size="11.739" fill="#0000ff">WED</text>
<text transform="translate(369.41,763.80) scale(1.0458,1)" font-size="11.884" fill="#0000ff">&#8199;&#8199;MAR</text>
<text transform="translate(434.46,753.70) scale(1.0127,1)" font-size="11.739" fill="#0000ff">THU</text>
<text transform="translate(425.91,764.90) scale(1.0361,1)" font-size="11.884" fill="#0000ff">&#8199;2MAR</text>
<text transform="translate(492.59,755.50) scale(1.0707,1)" font-size="11.739" fill="#0000ff">FRI</text>
<text transform="translate(481.41,765.90) scale(1.0439,1)" font-size="11.884" fill="#0000ff">&#8199;3MAR</text>
<text transform="translate(546.57,756.80) scale(1.0695,1)" font-size="11.739" fill="#0000ff">SAT</text>
<text transform="translate(538.95,767.70) scale(1.0019,1)" font-size="11.884" fill="#0000ff">&#8199;4MAR</text>
<text transform="translate(601.57,747.80) scale(1.0799,1)" font-size="11.739" fill="#0000ff">SUN</text>
<text transform="translate(594.73,758.60) scale(1.0229,1)" font-size="11.884" fill="#0000ff">&#8199;5MAR</text>
<text transform="translate(603.53,783.50) scale(1.0446,1)" font-size="15.217" fill="#0000ff">NOAA&#160;(ARL)</text>
<path d="M81.00 297.3L61.50 300.00M88.03 297.3L70.20 307.50M70.20 307.50L68.30 303.20M95.05 297.3L90.40 273.20M102.08 297.3L112.60 276.30M109.10 297.3L121.50 278.30M121.50 278.30L124.70 281.40M116.12 297.3L130.70 314.50M123.15 297.3L118.10 321.30M130.18 297.3L111.60 306.40M137.20 297.3L117.70 291.80M117.70 291.80L118.10 287.10M144.22 297.3L127.40 283.30M127.40 283.30L130.10 279.30M151.25 297.3L146.40 273.20M158.28 297.3L174.50 290.90M165.30 297.3L185.10 300.50M185.10 300.50L184.90 304.40M172.32 297.3L192.30 297.30M179.35 297.3L160.20 290.30M186.38 297.3L170.80 281.80M170.80 281.80L173.30 278.30M193.40 297.3L174.50 290.90M174.50 290.90L174.50 287.20M200.43 297.3L181.40 289.10M181.40 289.10L182.40 285.10M207.45 297.3L193.20 279.50M193.20 279.50L196.60 276.00M214.47 297.3L204.40 275.90M204.40 275.90L207.80 273.00M221.50 297.3L217.30 273.00M228.53 297.3L212.00 310.30M212.00 310.30L209.40 306.20M235.55 297.3L215.30 297.50M242.58 297.3L223.40 304.40M249.60 297.3L229.80 297.40M229.80 297.40L229.80 291.60M256.62 297.3L237.30 291.20M237.30 291.20L238.40 286.10M263.65 297.3L267.50 273.20M270.68 297.3L267.00 273.30M267.00 273.30L271.20 273.60M277.70 297.3L258.40 303.30M258.40 303.30L257.70 298.60M284.73 297.3L267.90 280.60M267.90 280.60L274.60 273.90M291.75 297.3L272.30 291.20M272.30 291.20L272.80 287.50M298.77 297.3L283.10 281.30M283.10 281.30L285.70 278.10M305.80 297.3L288.20 285.30M288.20 285.30L290.40 281.30M312.83 297.3L295.40 286.40M295.40 286.40L296.50 281.70M319.85 297.3L305.20 280.60M305.20 280.60L307.70 277.00M326.88 297.3L321.50 273.90M321.50 273.90L324.30 272.40M333.90 297.3L319.30 280.40M319.30 280.40L321.50 277.40M340.93 297.3L321.50 291.20M321.50 291.20L322.60 287.30M347.95 297.3L329.50 288.20M329.50 288.20L330.60 283.80M354.98 297.3L339.30 281.30M339.30 281.30L341.80 278.10M362.00 297.3L344.40 285.70M344.40 285.70L345.80 281.70M369.03 297.3L360.90 274.80M360.90 274.80L364.50 272.50M376.05 297.3L385.60 275.80M385.60 275.80L389.70 278.00M383.07 297.3L399.10 283.20M399.10 283.20L401.70 286.80M390.10 297.3L408.20 288.50M408.20 288.50L409.70 292.40M397.12 297.3L412.80 312.30M404.15 297.3L386.50 285.90M386.50 285.90L389.70 278.10M411.18 297.3L391.30 292.70M391.30 292.70L391.30 289.50M418.20 297.3L398.20 293.30M398.20 293.30L399.10 287.80M425.23 297.3L407.80 285.20M407.80 285.20L409.50 281.00M432.25 297.3L421.10 277.40M421.10 277.40L424.00 274.10M439.28 297.3L421.10 286.00M421.10 286.00L423.20 281.00M446.30 297.3L426.40 301.10M426.40 301.10L426.10 296.80M453.33 297.3L450.90 321.70M460.35 297.3L476.50 311.20M476.50 311.20L474.40 315.60M467.38 297.3L483.70 311.60M474.40 297.3L456.00 288.20M456.00 288.20L457.40 283.10M481.43 297.3L461.40 293.60M461.40 293.60L462.50 289.30M488.45 297.3L480.10 274.50M480.10 274.50L484.10 272.30M495.48 297.3L486.60 275.60M486.60 275.60L489.90 273.20M502.50 297.3L485.50 283.50M485.50 283.50L488.00 279.90M509.53 297.3L489.50 297.20M489.50 297.20L489.50 292.10M516.55 297.3L499.20 284.20M499.20 284.20L501.70 280.20M523.58 297.3L505.00 288.20M505.00 288.20L506.80 283.10M530.60 297.3L513.20 286.40M513.20 286.40L514.70 281.70M537.62 297.3L519.70 287.10M519.70 287.10L520.80 283.10M544.65 297.3L531.60 278.40M531.60 278.40L534.90 275.20M551.67 297.3L539.50 277.40M539.50 277.40L542.80 274.50M558.70 297.3L542.80 282.00M542.80 282.00L545.70 278.40M565.73 297.3L546.40 301.50M546.40 301.50L545.30 297.50M572.75 297.3L553.20 291.10M553.20 291.10L554.70 286.40M579.78 297.3L561.50 286.70M561.50 286.70L563.60 282.40M586.80 297.3L568.30 288.50M568.30 288.50L569.80 284.20M593.83 297.3L575.20 288.20M575.20 288.20L576.60 283.50M600.85 297.3L587.80 278.40M587.80 278.40L590.70 275.20M607.88 297.3L595.30 278.10M595.30 278.10L598.60 274.50M614.90 297.3L600.40 280.20M600.40 280.20L603.50 276.50M621.93 297.3L608.70 315.90M608.70 315.90L605.90 313.20M628.95 297.3L634.50 273.50M635.98 297.3L628.90 320.30M643.00 297.3L625.00 287.00" stroke="#1a1aff" stroke-width="0.85" fill="none" stroke-linecap="round"/>
<text transform="translate(80.80,341.65) rotate(90)" font-size="10.4" text-anchor="end" stroke="#000" stroke-width="0.22">264</text><text transform="translate(80.80,341.65) rotate(90)" font-size="10.4" stroke="#000" stroke-width="0.22">/</text><text transform="translate(80.80,356.6) rotate(90)" font-size="10.4" text-anchor="end" stroke="#000" stroke-width="0.22">2</text>
<text transform="translate(87.83,341.65) rotate(90)" font-size="10.4" text-anchor="end" stroke="#000" stroke-width="0.22">245</text><text transform="translate(87.83,341.65) rotate(90)" font-size="10.4" stroke="#000" stroke-width="0.22">/</text><text transform="translate(87.83,356.6) rotate(90)" font-size="10.4" text-anchor="end" stroke="#000" stroke-width="0.22">3</text>
<text transform="translate(94.85,341.65) rotate(90)" font-size="10.4" text-anchor="end" stroke="#000" stroke-width="0.22">347</text><text transform="translate(94.85,341.65) rotate(90)" font-size="10.4" stroke="#000" stroke-width="0.22">/</text><text transform="translate(94.85,356.6) rotate(90)" font-size="10.4" text-anchor="end" stroke="#000" stroke-width="0.22">&#8199;</text>
<text transform="translate(101.88,341.65) rotate(90)" font-size="10.4" text-anchor="end" stroke="#000" stroke-width="0.22">32</text><text transform="translate(101.88,341.65) rotate(90)" font-size="10.4" stroke="#000" stroke-width="0.22">/</text><text transform="translate(101.88,356.6) rotate(90)" font-size="10.4" text-anchor="end" stroke="#000" stroke-width="0.22">2</text>
<text transform="translate(108.90,341.65) rotate(90)" font-size="10.4" text-anchor="end" stroke="#000" stroke-width="0.22">39</text><text transform="translate(108.90,341.65) rotate(90)" font-size="10.4" stroke="#000" stroke-width="0.22">/</text><text transform="translate(108.90,356.6) rotate(90)" font-size="10.4" text-anchor="end" stroke="#000" stroke-width="0.22">3</text>
<text transform="translate(115.92,341.65) rotate(90)" font-size="10.4" text-anchor="end" stroke="#000" stroke-width="0.22">&#8199;34</text><text transform="translate(115.92,341.65) rotate(90)" font-size="10.4" stroke="#000" stroke-width="0.22">/</text><text transform="translate(115.92,356.6) rotate(90)" font-size="10.4" text-anchor="end" stroke="#000" stroke-width="0.22">&#8199;</text>
<text transform="translate(122.95,341.65) rotate(90)" font-size="10.4" text-anchor="end" stroke="#000" stroke-width="0.22">&#8199;94</text><text transform="translate(122.95,341.65) rotate(90)" font-size="10.4" stroke="#000" stroke-width="0.22">/</text><text transform="translate(122.95,356.6) rotate(90)" font-size="10.4" text-anchor="end" stroke="#000" stroke-width="0.22">2</text>
<text transform="translate(129.98,341.65) rotate(90)" font-size="10.4" text-anchor="end" stroke="#000" stroke-width="0.22">248</text><text transform="translate(129.98,341.65) rotate(90)" font-size="10.4" stroke="#000" stroke-width="0.22">/</text><text transform="translate(129.98,356.6) rotate(90)" font-size="10.4" text-anchor="end" stroke="#000" stroke-width="0.22">&#8199;</text>
<text transform="translate(137.00,341.65) rotate(90)" font-size="10.4" text-anchor="end" stroke="#000" stroke-width="0.22">283</text><text transform="translate(137.00,341.65) rotate(90)" font-size="10.4" stroke="#000" stroke-width="0.22">/</text><text transform="translate(137.00,356.6) rotate(90)" font-size="10.4" text-anchor="end" stroke="#000" stroke-width="0.22">4</text>
<text transform="translate(144.03,341.65) rotate(90)" font-size="10.4" text-anchor="end" stroke="#000" stroke-width="0.22">304</text><text transform="translate(144.03,341.65) rotate(90)" font-size="10.4" stroke="#000" stroke-width="0.22">/</text><text transform="translate(144.03,356.6) rotate(90)" font-size="10.4" text-anchor="end" stroke="#000" stroke-width="0.22">3</text>
<text transform="translate(151.05,341.65) rotate(90)" font-size="10.4" text-anchor="end" stroke="#000" stroke-width="0.22">346</text><text transform="translate(151.05,341.65) rotate(90)" font-size="10.4" stroke="#000" stroke-width="0.22">/</text><text transform="translate(151.05,356.6) rotate(90)" font-size="10.4" text-anchor="end" stroke="#000" stroke-width="0.22">&#8199;</text>
<text transform="translate(158.08,341.65) rotate(90)" font-size="10.4" text-anchor="end" stroke="#000" stroke-width="0.22">72</text><text transform="translate(158.08,341.65) rotate(90)" font-size="10.4" stroke="#000" stroke-width="0.22">/</text><text transform="translate(158.08,356.6) rotate(90)" font-size="10.4" text-anchor="end" stroke="#000" stroke-width="0.22">&#8199;</text>
<text transform="translate(165.10,341.65) rotate(90)" font-size="10.4" text-anchor="end" stroke="#000" stroke-width="0.22">98</text><text transform="translate(165.10,341.65) rotate(90)" font-size="10.4" stroke="#000" stroke-width="0.22">/</text><text transform="translate(165.10,356.6) rotate(90)" font-size="10.4" text-anchor="end" stroke="#000" stroke-width="0.22">3</text>
<text transform="translate(172.12,341.65) rotate(90)" font-size="10.4" text-anchor="end" stroke="#000" stroke-width="0.22">90</text><text transform="translate(172.12,341.65) rotate(90)" font-size="10.4" stroke="#000" stroke-width="0.22">/</text><text transform="translate(172.12,356.6) rotate(90)" font-size="10.4" text-anchor="end" stroke="#000" stroke-width="0.22">&#8199;</text>
<text transform="translate(179.15,341.65) rotate(90)" font-size="10.4" text-anchor="end" stroke="#000" stroke-width="0.22">287</text><text transform="translate(179.15,341.65) rotate(90)" font-size="10.4" stroke="#000" stroke-width="0.22">/</text><text transform="translate(179.15,356.6) rotate(90)" font-size="10.4" text-anchor="end" stroke="#000" stroke-width="0.22">&#8199;</text>
<text transform="translate(186.18,341.65) rotate(90)" font-size="10.4" text-anchor="end" stroke="#000" stroke-width="0.22">309</text><text transform="translate(186.18,341.65) rotate(90)" font-size="10.4" stroke="#000" stroke-width="0.22">/</text><text transform="translate(186.18,356.6) rotate(90)" font-size="10.4" text-anchor="end" stroke="#000" stroke-width="0.22">4</text>
<text transform="translate(193.20,341.65) rotate(90)" font-size="10.4" text-anchor="end" stroke="#000" stroke-width="0.22">285</text><text transform="translate(193.20,341.65) rotate(90)" font-size="10.4" stroke="#000" stroke-width="0.22">/</text><text transform="translate(193.20,356.6) rotate(90)" font-size="10.4" text-anchor="end" stroke="#000" stroke-width="0.22">4</text>
<text transform="translate(200.23,341.65) rotate(90)" font-size="10.4" text-anchor="end" stroke="#000" stroke-width="0.22">289</text><text transform="translate(200.23,341.65) rotate(90)" font-size="10.4" stroke="#000" stroke-width="0.22">/</text><text transform="translate(200.23,356.6) rotate(90)" font-size="10.4" text-anchor="end" stroke="#000" stroke-width="0.22">4</text>
<text transform="translate(207.25,341.65) rotate(90)" font-size="10.4" text-anchor="end" stroke="#000" stroke-width="0.22">3&#8199;6</text><text transform="translate(207.25,341.65) rotate(90)" font-size="10.4" stroke="#000" stroke-width="0.22">/</text><text transform="translate(207.25,356.6) rotate(90)" font-size="10.4" text-anchor="end" stroke="#000" stroke-width="0.22">4</text>
<text transform="translate(214.28,341.65) rotate(90)" font-size="10.4" text-anchor="end" stroke="#000" stroke-width="0.22">330</text><text transform="translate(214.28,341.65) rotate(90)" font-size="10.4" stroke="#000" stroke-width="0.22">/</text><text transform="translate(214.28,356.6) rotate(90)" font-size="10.4" text-anchor="end" stroke="#000" stroke-width="0.22">4</text>
<text transform="translate(221.30,341.65) rotate(90)" font-size="10.4" text-anchor="end" stroke="#000" stroke-width="0.22">348</text><text transform="translate(221.30,341.65) rotate(90)" font-size="10.4" stroke="#000" stroke-width="0.22">/</text><text transform="translate(221.30,356.6) rotate(90)" font-size="10.4" text-anchor="end" stroke="#000" stroke-width="0.22">&#8199;</text>
<text transform="translate(228.33,341.65) rotate(90)" font-size="10.4" text-anchor="end" stroke="#000" stroke-width="0.22">237</text><text transform="translate(228.33,341.65) rotate(90)" font-size="10.4" stroke="#000" stroke-width="0.22">/</text><text transform="translate(228.33,356.6) rotate(90)" font-size="10.4" text-anchor="end" stroke="#000" stroke-width="0.22">4</text>
<text transform="translate(235.35,341.65) rotate(90)" font-size="10.4" text-anchor="end" stroke="#000" stroke-width="0.22">270</text><text transform="translate(235.35,341.65) rotate(90)" font-size="10.4" stroke="#000" stroke-width="0.22">/</text><text transform="translate(235.35,356.6) rotate(90)" font-size="10.4" text-anchor="end" stroke="#000" stroke-width="0.22">&#8199;</text>
<text transform="translate(242.38,341.65) rotate(90)" font-size="10.4" text-anchor="end" stroke="#000" stroke-width="0.22">253</text><text transform="translate(242.38,341.65) rotate(90)" font-size="10.4" stroke="#000" stroke-width="0.22">/</text><text transform="translate(242.38,356.6) rotate(90)" font-size="10.4" text-anchor="end" stroke="#000" stroke-width="0.22">&#8199;</text>
<text transform="translate(249.40,341.65) rotate(90)" font-size="10.4" text-anchor="end" stroke="#000" stroke-width="0.22">270</text><text transform="translate(249.40,341.65) rotate(90)" font-size="10.4" stroke="#000" stroke-width="0.22">/</text><text transform="translate(249.40,356.6) rotate(90)" font-size="10.4" text-anchor="end" stroke="#000" stroke-width="0.22">4</text>
<text transform="translate(256.43,341.65) rotate(90)" font-size="10.4" text-anchor="end" stroke="#000" stroke-width="0.22">284</text><text transform="translate(256.43,341.65) rotate(90)" font-size="10.4" stroke="#000" stroke-width="0.22">/</text><text transform="translate(256.43,356.6) rotate(90)" font-size="10.4" text-anchor="end" stroke="#000" stroke-width="0.22">4</text>
<text transform="translate(263.45,341.65) rotate(90)" font-size="10.4" text-anchor="end" stroke="#000" stroke-width="0.22">&#8199;&#8199;</text><text transform="translate(263.45,341.65) rotate(90)" font-size="10.4" stroke="#000" stroke-width="0.22">/</text><text transform="translate(263.45,356.6) rotate(90)" font-size="10.4" text-anchor="end" stroke="#000" stroke-width="0.22">&#8199;</text>
<text transform="translate(270.48,341.65) rotate(90)" font-size="10.4" text-anchor="end" stroke="#000" stroke-width="0.22">349</text><text transform="translate(270.48,341.65) rotate(90)" font-size="10.4" stroke="#000" stroke-width="0.22">/</text><text transform="translate(270.48,356.6) rotate(90)" font-size="10.4" text-anchor="end" stroke="#000" stroke-width="0.22">4</text>
<text transform="translate(277.50,341.65) rotate(90)" font-size="10.4" text-anchor="end" stroke="#000" stroke-width="0.22">256</text><text transform="translate(277.50,341.65) rotate(90)" font-size="10.4" stroke="#000" stroke-width="0.22">/</text><text transform="translate(277.50,356.6) rotate(90)" font-size="10.4" text-anchor="end" stroke="#000" stroke-width="0.22">4</text>
<text transform="translate(284.53,341.65) rotate(90)" font-size="10.4" text-anchor="end" stroke="#000" stroke-width="0.22">309</text><text transform="translate(284.53,341.65) rotate(90)" font-size="10.4" stroke="#000" stroke-width="0.22">/</text><text transform="translate(284.53,356.6) rotate(90)" font-size="10.4" text-anchor="end" stroke="#000" stroke-width="0.22">&#8199;0</text>
<text transform="translate(291.55,341.65) rotate(90)" font-size="10.4" text-anchor="end" stroke="#000" stroke-width="0.22">284</text><text transform="translate(291.55,341.65) rotate(90)" font-size="10.4" stroke="#000" stroke-width="0.22">/</text><text transform="translate(291.55,356.6) rotate(90)" font-size="10.4" text-anchor="end" stroke="#000" stroke-width="0.22">4</text>
<text transform="translate(298.57,341.65) rotate(90)" font-size="10.4" text-anchor="end" stroke="#000" stroke-width="0.22">3&#8199;0</text><text transform="translate(298.57,341.65) rotate(90)" font-size="10.4" stroke="#000" stroke-width="0.22">/</text><text transform="translate(298.57,356.6) rotate(90)" font-size="10.4" text-anchor="end" stroke="#000" stroke-width="0.22">4</text>
<text transform="translate(305.60,341.65) rotate(90)" font-size="10.4" text-anchor="end" stroke="#000" stroke-width="0.22">299</text><text transform="translate(305.60,341.65) rotate(90)" font-size="10.4" stroke="#000" stroke-width="0.22">/</text><text transform="translate(305.60,356.6) rotate(90)" font-size="10.4" text-anchor="end" stroke="#000" stroke-width="0.22">4</text>
<text transform="translate(312.63,341.65) rotate(90)" font-size="10.4" text-anchor="end" stroke="#000" stroke-width="0.22">297</text><text transform="translate(312.63,341.65) rotate(90)" font-size="10.4" stroke="#000" stroke-width="0.22">/</text><text transform="translate(312.63,356.6) rotate(90)" font-size="10.4" text-anchor="end" stroke="#000" stroke-width="0.22">4</text>
<text transform="translate(319.65,341.65) rotate(90)" font-size="10.4" text-anchor="end" stroke="#000" stroke-width="0.22">3&#8199;3</text><text transform="translate(319.65,341.65) rotate(90)" font-size="10.4" stroke="#000" stroke-width="0.22">/</text><text transform="translate(319.65,356.6) rotate(90)" font-size="10.4" text-anchor="end" stroke="#000" stroke-width="0.22">4</text>
<text transform="translate(326.68,341.65) rotate(90)" font-size="10.4" text-anchor="end" stroke="#000" stroke-width="0.22">344</text><text transform="translate(326.68,341.65) rotate(90)" font-size="10.4" stroke="#000" stroke-width="0.22">/</text><text transform="translate(326.68,356.6) rotate(90)" font-size="10.4" text-anchor="end" stroke="#000" stroke-width="0.22">4</text>
<text transform="translate(333.70,341.65) rotate(90)" font-size="10.4" text-anchor="end" stroke="#000" stroke-width="0.22">3&#8199;3</text><text transform="translate(333.70,341.65) rotate(90)" font-size="10.4" stroke="#000" stroke-width="0.22">/</text><text transform="translate(333.70,356.6) rotate(90)" font-size="10.4" text-anchor="end" stroke="#000" stroke-width="0.22">4</text>
<text transform="translate(340.73,341.65) rotate(90)" font-size="10.4" text-anchor="end" stroke="#000" stroke-width="0.22">284</text><text transform="translate(340.73,341.65) rotate(90)" font-size="10.4" stroke="#000" stroke-width="0.22">/</text><text transform="translate(340.73,356.6) rotate(90)" font-size="10.4" text-anchor="end" stroke="#000" stroke-width="0.22">&#8199;0</text>
<text transform="translate(347.75,341.65) rotate(90)" font-size="10.4" text-anchor="end" stroke="#000" stroke-width="0.22">292</text><text transform="translate(347.75,341.65) rotate(90)" font-size="10.4" stroke="#000" stroke-width="0.22">/</text><text transform="translate(347.75,356.6) rotate(90)" font-size="10.4" text-anchor="end" stroke="#000" stroke-width="0.22">4</text>
<text transform="translate(354.78,341.65) rotate(90)" font-size="10.4" text-anchor="end" stroke="#000" stroke-width="0.22">3&#8199;0</text><text transform="translate(354.78,341.65) rotate(90)" font-size="10.4" stroke="#000" stroke-width="0.22">/</text><text transform="translate(354.78,356.6) rotate(90)" font-size="10.4" text-anchor="end" stroke="#000" stroke-width="0.22">4</text>
<text transform="translate(361.80,341.65) rotate(90)" font-size="10.4" text-anchor="end" stroke="#000" stroke-width="0.22">298</text><text transform="translate(361.80,341.65) rotate(90)" font-size="10.4" stroke="#000" stroke-width="0.22">/</text><text transform="translate(361.80,356.6) rotate(90)" font-size="10.4" text-anchor="end" stroke="#000" stroke-width="0.22">4</text>
<text transform="translate(368.83,341.65) rotate(90)" font-size="10.4" text-anchor="end" stroke="#000" stroke-width="0.22">336</text><text transform="translate(368.83,341.65) rotate(90)" font-size="10.4" stroke="#000" stroke-width="0.22">/</text><text transform="translate(368.83,356.6) rotate(90)" font-size="10.4" text-anchor="end" stroke="#000" stroke-width="0.22">4</text>
<text transform="translate(375.85,341.65) rotate(90)" font-size="10.4" text-anchor="end" stroke="#000" stroke-width="0.22">29</text><text transform="translate(375.85,341.65) rotate(90)" font-size="10.4" stroke="#000" stroke-width="0.22">/</text><text transform="translate(375.85,356.6) rotate(90)" font-size="10.4" text-anchor="end" stroke="#000" stroke-width="0.22">4</text>
<text transform="translate(382.88,341.65) rotate(90)" font-size="10.4" text-anchor="end" stroke="#000" stroke-width="0.22">54</text><text transform="translate(382.88,341.65) rotate(90)" font-size="10.4" stroke="#000" stroke-width="0.22">/</text><text transform="translate(382.88,356.6) rotate(90)" font-size="10.4" text-anchor="end" stroke="#000" stroke-width="0.22">4</text>
<text transform="translate(389.90,341.65) rotate(90)" font-size="10.4" text-anchor="end" stroke="#000" stroke-width="0.22">68</text><text transform="translate(389.90,341.65) rotate(90)" font-size="10.4" stroke="#000" stroke-width="0.22">/</text><text transform="translate(389.90,356.6) rotate(90)" font-size="10.4" text-anchor="end" stroke="#000" stroke-width="0.22">4</text>
<text transform="translate(396.93,341.65) rotate(90)" font-size="10.4" text-anchor="end" stroke="#000" stroke-width="0.22">&#8199;28</text><text transform="translate(396.93,341.65) rotate(90)" font-size="10.4" stroke="#000" stroke-width="0.22">/</text><text transform="translate(396.93,356.6) rotate(90)" font-size="10.4" text-anchor="end" stroke="#000" stroke-width="0.22">2</text>
<text transform="translate(403.95,341.65) rotate(90)" font-size="10.4" text-anchor="end" stroke="#000" stroke-width="0.22">298</text><text transform="translate(403.95,341.65) rotate(90)" font-size="10.4" stroke="#000" stroke-width="0.22">/</text><text transform="translate(403.95,356.6) rotate(90)" font-size="10.4" text-anchor="end" stroke="#000" stroke-width="0.22">6</text>
<text transform="translate(410.98,341.65) rotate(90)" font-size="10.4" text-anchor="end" stroke="#000" stroke-width="0.22">28&#8199;</text><text transform="translate(410.98,341.65) rotate(90)" font-size="10.4" stroke="#000" stroke-width="0.22">/</text><text transform="translate(410.98,356.6) rotate(90)" font-size="10.4" text-anchor="end" stroke="#000" stroke-width="0.22">4</text>
<text transform="translate(418.00,341.65) rotate(90)" font-size="10.4" text-anchor="end" stroke="#000" stroke-width="0.22">279</text><text transform="translate(418.00,341.65) rotate(90)" font-size="10.4" stroke="#000" stroke-width="0.22">/</text><text transform="translate(418.00,356.6) rotate(90)" font-size="10.4" text-anchor="end" stroke="#000" stroke-width="0.22">4</text>
<text transform="translate(425.03,341.65) rotate(90)" font-size="10.4" text-anchor="end" stroke="#000" stroke-width="0.22">300</text><text transform="translate(425.03,341.65) rotate(90)" font-size="10.4" stroke="#000" stroke-width="0.22">/</text><text transform="translate(425.03,356.6) rotate(90)" font-size="10.4" text-anchor="end" stroke="#000" stroke-width="0.22">4</text>
<text transform="translate(432.05,341.65) rotate(90)" font-size="10.4" text-anchor="end" stroke="#000" stroke-width="0.22">326</text><text transform="translate(432.05,341.65) rotate(90)" font-size="10.4" stroke="#000" stroke-width="0.22">/</text><text transform="translate(432.05,356.6) rotate(90)" font-size="10.4" text-anchor="end" stroke="#000" stroke-width="0.22">4</text>
<text transform="translate(439.08,341.65) rotate(90)" font-size="10.4" text-anchor="end" stroke="#000" stroke-width="0.22">297</text><text transform="translate(439.08,341.65) rotate(90)" font-size="10.4" stroke="#000" stroke-width="0.22">/</text><text transform="translate(439.08,356.6) rotate(90)" font-size="10.4" text-anchor="end" stroke="#000" stroke-width="0.22">4</text>
<text transform="translate(446.10,341.65) rotate(90)" font-size="10.4" text-anchor="end" stroke="#000" stroke-width="0.22">26&#8199;</text><text transform="translate(446.10,341.65) rotate(90)" font-size="10.4" stroke="#000" stroke-width="0.22">/</text><text transform="translate(446.10,356.6) rotate(90)" font-size="10.4" text-anchor="end" stroke="#000" stroke-width="0.22">4</text>
<text transform="translate(453.13,341.65) rotate(90)" font-size="10.4" text-anchor="end" stroke="#000" stroke-width="0.22">&#8199;87</text><text transform="translate(453.13,341.65) rotate(90)" font-size="10.4" stroke="#000" stroke-width="0.22">/</text><text transform="translate(453.13,356.6) rotate(90)" font-size="10.4" text-anchor="end" stroke="#000" stroke-width="0.22">&#8199;</text>
<text transform="translate(460.15,341.65) rotate(90)" font-size="10.4" text-anchor="end" stroke="#000" stroke-width="0.22">&#8199;25</text><text transform="translate(460.15,341.65) rotate(90)" font-size="10.4" stroke="#000" stroke-width="0.22">/</text><text transform="translate(460.15,356.6) rotate(90)" font-size="10.4" text-anchor="end" stroke="#000" stroke-width="0.22">4</text>
<text transform="translate(467.18,341.65) rotate(90)" font-size="10.4" text-anchor="end" stroke="#000" stroke-width="0.22">&#8199;26</text><text transform="translate(467.18,341.65) rotate(90)" font-size="10.4" stroke="#000" stroke-width="0.22">/</text><text transform="translate(467.18,356.6) rotate(90)" font-size="10.4" text-anchor="end" stroke="#000" stroke-width="0.22">&#8199;</text>
<text transform="translate(474.20,341.65) rotate(90)" font-size="10.4" text-anchor="end" stroke="#000" stroke-width="0.22">292</text><text transform="translate(474.20,341.65) rotate(90)" font-size="10.4" stroke="#000" stroke-width="0.22">/</text><text transform="translate(474.20,356.6) rotate(90)" font-size="10.4" text-anchor="end" stroke="#000" stroke-width="0.22">4</text>
<text transform="translate(481.23,341.65) rotate(90)" font-size="10.4" text-anchor="end" stroke="#000" stroke-width="0.22">279</text><text transform="translate(481.23,341.65) rotate(90)" font-size="10.4" stroke="#000" stroke-width="0.22">/</text><text transform="translate(481.23,356.6) rotate(90)" font-size="10.4" text-anchor="end" stroke="#000" stroke-width="0.22">4</text>
<text transform="translate(488.25,341.65) rotate(90)" font-size="10.4" text-anchor="end" stroke="#000" stroke-width="0.22">336</text><text transform="translate(488.25,341.65) rotate(90)" font-size="10.4" stroke="#000" stroke-width="0.22">/</text><text transform="translate(488.25,356.6) rotate(90)" font-size="10.4" text-anchor="end" stroke="#000" stroke-width="0.22">4</text>
<text transform="translate(495.28,341.65) rotate(90)" font-size="10.4" text-anchor="end" stroke="#000" stroke-width="0.22">333</text><text transform="translate(495.28,341.65) rotate(90)" font-size="10.4" stroke="#000" stroke-width="0.22">/</text><text transform="translate(495.28,356.6) rotate(90)" font-size="10.4" text-anchor="end" stroke="#000" stroke-width="0.22">4</text>
<text transform="translate(502.30,341.65) rotate(90)" font-size="10.4" text-anchor="end" stroke="#000" stroke-width="0.22">304</text><text transform="translate(502.30,341.65) rotate(90)" font-size="10.4" stroke="#000" stroke-width="0.22">/</text><text transform="translate(502.30,356.6) rotate(90)" font-size="10.4" text-anchor="end" stroke="#000" stroke-width="0.22">4</text>
<text transform="translate(509.33,341.65) rotate(90)" font-size="10.4" text-anchor="end" stroke="#000" stroke-width="0.22">270</text><text transform="translate(509.33,341.65) rotate(90)" font-size="10.4" stroke="#000" stroke-width="0.22">/</text><text transform="translate(509.33,356.6) rotate(90)" font-size="10.4" text-anchor="end" stroke="#000" stroke-width="0.22">4</text>
<text transform="translate(516.35,341.65) rotate(90)" font-size="10.4" text-anchor="end" stroke="#000" stroke-width="0.22">302</text><text transform="translate(516.35,341.65) rotate(90)" font-size="10.4" stroke="#000" stroke-width="0.22">/</text><text transform="translate(516.35,356.6) rotate(90)" font-size="10.4" text-anchor="end" stroke="#000" stroke-width="0.22">4</text>
<text transform="translate(523.38,341.65) rotate(90)" font-size="10.4" text-anchor="end" stroke="#000" stroke-width="0.22">292</text><text transform="translate(523.38,341.65) rotate(90)" font-size="10.4" stroke="#000" stroke-width="0.22">/</text><text transform="translate(523.38,356.6) rotate(90)" font-size="10.4" text-anchor="end" stroke="#000" stroke-width="0.22">4</text>
<text transform="translate(530.40,341.65) rotate(90)" font-size="10.4" text-anchor="end" stroke="#000" stroke-width="0.22">297</text><text transform="translate(530.40,341.65) rotate(90)" font-size="10.4" stroke="#000" stroke-width="0.22">/</text><text transform="translate(530.40,356.6) rotate(90)" font-size="10.4" text-anchor="end" stroke="#000" stroke-width="0.22">4</text>
<text transform="translate(537.42,341.65) rotate(90)" font-size="10.4" text-anchor="end" stroke="#000" stroke-width="0.22">295</text><text transform="translate(537.42,341.65) rotate(90)" font-size="10.4" stroke="#000" stroke-width="0.22">/</text><text transform="translate(537.42,356.6) rotate(90)" font-size="10.4" text-anchor="end" stroke="#000" stroke-width="0.22">4</text>
<text transform="translate(544.45,341.65) rotate(90)" font-size="10.4" text-anchor="end" stroke="#000" stroke-width="0.22">320</text><text transform="translate(544.45,341.65) rotate(90)" font-size="10.4" stroke="#000" stroke-width="0.22">/</text><text transform="translate(544.45,356.6) rotate(90)" font-size="10.4" text-anchor="end" stroke="#000" stroke-width="0.22">4</text>
<text transform="translate(551.47,341.65) rotate(90)" font-size="10.4" text-anchor="end" stroke="#000" stroke-width="0.22">323</text><text transform="translate(551.47,341.65) rotate(90)" font-size="10.4" stroke="#000" stroke-width="0.22">/</text><text transform="translate(551.47,356.6) rotate(90)" font-size="10.4" text-anchor="end" stroke="#000" stroke-width="0.22">4</text>
<text transform="translate(558.50,341.65) rotate(90)" font-size="10.4" text-anchor="end" stroke="#000" stroke-width="0.22">308</text><text transform="translate(558.50,341.65) rotate(90)" font-size="10.4" stroke="#000" stroke-width="0.22">/</text><text transform="translate(558.50,356.6) rotate(90)" font-size="10.4" text-anchor="end" stroke="#000" stroke-width="0.22">4</text>
<text transform="translate(565.52,341.65) rotate(90)" font-size="10.4" text-anchor="end" stroke="#000" stroke-width="0.22">260</text><text transform="translate(565.52,341.65) rotate(90)" font-size="10.4" stroke="#000" stroke-width="0.22">/</text><text transform="translate(565.52,356.6) rotate(90)" font-size="10.4" text-anchor="end" stroke="#000" stroke-width="0.22">4</text>
<text transform="translate(572.55,341.65) rotate(90)" font-size="10.4" text-anchor="end" stroke="#000" stroke-width="0.22">285</text><text transform="translate(572.55,341.65) rotate(90)" font-size="10.4" stroke="#000" stroke-width="0.22">/</text><text transform="translate(572.55,356.6) rotate(90)" font-size="10.4" text-anchor="end" stroke="#000" stroke-width="0.22">4</text>
<text transform="translate(579.58,341.65) rotate(90)" font-size="10.4" text-anchor="end" stroke="#000" stroke-width="0.22">295</text><text transform="translate(579.58,341.65) rotate(90)" font-size="10.4" stroke="#000" stroke-width="0.22">/</text><text transform="translate(579.58,356.6) rotate(90)" font-size="10.4" text-anchor="end" stroke="#000" stroke-width="0.22">4</text>
<text transform="translate(586.60,341.65) rotate(90)" font-size="10.4" text-anchor="end" stroke="#000" stroke-width="0.22">29&#8199;</text><text transform="translate(586.60,341.65) rotate(90)" font-size="10.4" stroke="#000" stroke-width="0.22">/</text><text transform="translate(586.60,356.6) rotate(90)" font-size="10.4" text-anchor="end" stroke="#000" stroke-width="0.22">4</text>
<text transform="translate(593.62,341.65) rotate(90)" font-size="10.4" text-anchor="end" stroke="#000" stroke-width="0.22">292</text><text transform="translate(593.62,341.65) rotate(90)" font-size="10.4" stroke="#000" stroke-width="0.22">/</text><text transform="translate(593.62,356.6) rotate(90)" font-size="10.4" text-anchor="end" stroke="#000" stroke-width="0.22">4</text>
<text transform="translate(600.65,341.65) rotate(90)" font-size="10.4" text-anchor="end" stroke="#000" stroke-width="0.22">320</text><text transform="translate(600.65,341.65) rotate(90)" font-size="10.4" stroke="#000" stroke-width="0.22">/</text><text transform="translate(600.65,356.6) rotate(90)" font-size="10.4" text-anchor="end" stroke="#000" stroke-width="0.22">4</text>
<text transform="translate(607.67,341.65) rotate(90)" font-size="10.4" text-anchor="end" stroke="#000" stroke-width="0.22">32&#8199;</text><text transform="translate(607.67,341.65) rotate(90)" font-size="10.4" stroke="#000" stroke-width="0.22">/</text><text transform="translate(607.67,356.6) rotate(90)" font-size="10.4" text-anchor="end" stroke="#000" stroke-width="0.22">4</text>
<text transform="translate(614.70,341.65) rotate(90)" font-size="10.4" text-anchor="end" stroke="#000" stroke-width="0.22">3&#8199;4</text><text transform="translate(614.70,341.65) rotate(90)" font-size="10.4" stroke="#000" stroke-width="0.22">/</text><text transform="translate(614.70,356.6) rotate(90)" font-size="10.4" text-anchor="end" stroke="#000" stroke-width="0.22">4</text>
<text transform="translate(621.73,341.65) rotate(90)" font-size="10.4" text-anchor="end" stroke="#000" stroke-width="0.22">22&#8199;</text><text transform="translate(621.73,341.65) rotate(90)" font-size="10.4" stroke="#000" stroke-width="0.22">/</text><text transform="translate(621.73,356.6) rotate(90)" font-size="10.4" text-anchor="end" stroke="#000" stroke-width="0.22">4</text>
<text transform="translate(628.75,341.65) rotate(90)" font-size="10.4" text-anchor="end" stroke="#000" stroke-width="0.22">&#8199;6</text><text transform="translate(628.75,341.65) rotate(90)" font-size="10.4" stroke="#000" stroke-width="0.22">/</text><text transform="translate(628.75,356.6) rotate(90)" font-size="10.4" text-anchor="end" stroke="#000" stroke-width="0.22">2</text>
<text transform="translate(635.77,341.65) rotate(90)" font-size="10.4" text-anchor="end" stroke="#000" stroke-width="0.22">20&#8199;</text><text transform="translate(635.77,341.65) rotate(90)" font-size="10.4" stroke="#000" stroke-width="0.22">/</text><text transform="translate(635.77,356.6) rotate(90)" font-size="10.4" text-anchor="end" stroke="#000" stroke-width="0.22">&#8199;</text>
<text transform="translate(642.80,341.65) rotate(90)" font-size="10.4" text-anchor="end" stroke="#000" stroke-width="0.22">295</text><text transform="translate(642.80,341.65) rotate(90)" font-size="10.4" stroke="#000" stroke-width="0.22">/</text><text transform="translate(642.80,356.6) rotate(90)" font-size="10.4" text-anchor="end" stroke="#000" stroke-width="0.22">&#8199;</text>

<path d="M515 0L515 1237L197 1010L197 1180L530 1409L696 1409L696 0Z" transform="translate(202.79,41.60) scale(0.9812,1) translate(275.326,0.000) scale(0.01061,-0.01061)" fill="#000"/>
<path d="M515 0L515 1237L197 1010L197 1180L530 1409L696 1409L696 0Z" transform="translate(373.73,90.80) scale(0.9790,1) translate(173.721,0.000) scale(0.00672,-0.00672)" fill="#000"/>
<path d="M515 0L515 1237L197 1010L197 1180L530 1409L696 1409L696 0Z" transform="translate(108.70,120.80) rotate(90) translate(0.000,0.000) scale(0.00508,-0.00508)" fill="#0000ff" stroke="#0000ff" stroke-width="0.22" vector-effect="non-scaling-stroke"/>
<path d="M515 0L515 1237L197 1010L197 1180L530 1409L696 1409L696 0Z" transform="translate(115.72,120.80) rotate(90) translate(0.000,0.000) scale(0.00508,-0.00508)" fill="#0000ff" stroke="#0000ff" stroke-width="0.22" vector-effect="non-scaling-stroke"/>
<path d="M515 0L515 1237L197 1010L197 1180L530 1409L696 1409L696 0Z" transform="translate(122.75,120.80) rotate(90) translate(0.000,0.000) scale(0.00508,-0.00508)" fill="#0000ff" stroke="#0000ff" stroke-width="0.22" vector-effect="non-scaling-stroke"/>
<path d="M515 0L515 1237L197 1010L197 1180L530 1409L696 1409L696 0Z" transform="translate(129.78,120.80) rotate(90) translate(5.766,0.000) scale(0.00508,-0.00508)" fill="#0000ff" stroke="#0000ff" stroke-width="0.22" vector-effect="non-scaling-stroke"/>
<path d="M515 0L515 1237L197 1010L197 1180L530 1409L696 1409L696 0Z" transform="translate(200.03,120.80) rotate(90) translate(5.766,0.000) scale(0.00508,-0.00508)" fill="#0000ff" stroke="#0000ff" stroke-width="0.22" vector-effect="non-scaling-stroke"/>
<path d="M515 0L515 1237L197 1010L197 1180L530 1409L696 1409L696 0Z" transform="translate(270.28,120.80) rotate(90) translate(5.766,0.000) scale(0.00508,-0.00508)" fill="#0000ff" stroke="#0000ff" stroke-width="0.22" vector-effect="non-scaling-stroke"/>
<path d="M515 0L515 1237L197 1010L197 1180L530 1409L696 1409L696 0Z" transform="translate(319.45,117.30) rotate(90) translate(0.000,0.000) scale(0.00508,-0.00508)" fill="#0000ff" stroke="#0000ff" stroke-width="0.22" vector-effect="non-scaling-stroke"/>
<path d="M515 0L515 1237L197 1010L197 1180L530 1409L696 1409L696 0Z" transform="translate(326.48,117.30) rotate(90) translate(0.000,0.000) scale(0.00508,-0.00508)" fill="#0000ff" stroke="#0000ff" stroke-width="0.22" vector-effect="non-scaling-stroke"/>
<path d="M515 0L515 1237L197 1010L197 1180L530 1409L696 1409L696 0Z" transform="translate(333.50,117.30) rotate(90) translate(0.000,0.000) scale(0.00508,-0.00508)" fill="#0000ff" stroke="#0000ff" stroke-width="0.22" vector-effect="non-scaling-stroke"/>
<path d="M515 0L515 1237L197 1010L197 1180L530 1409L696 1409L696 0Z" transform="translate(340.53,117.30) rotate(90) translate(0.000,0.000) scale(0.00508,-0.00508)" fill="#0000ff" stroke="#0000ff" stroke-width="0.22" vector-effect="non-scaling-stroke"/>
<path d="M515 0L515 1237L197 1010L197 1180L530 1409L696 1409L696 0Z" transform="translate(340.53,117.30) rotate(90) translate(5.766,0.000) scale(0.00508,-0.00508)" fill="#0000ff" stroke="#0000ff" stroke-width="0.22" vector-effect="non-scaling-stroke"/>
<path d="M515 0L515 1237L197 1010L197 1180L530 1409L696 1409L696 0Z" transform="translate(340.53,117.30) rotate(90) translate(11.547,0.000) scale(0.00508,-0.00508)" fill="#0000ff" stroke="#0000ff" stroke-width="0.22" vector-effect="non-scaling-stroke"/>
<path d="M515 0L515 1237L197 1010L197 1180L530 1409L696 1409L696 0Z" transform="translate(347.55,117.30) rotate(90) translate(0.000,0.000) scale(0.00508,-0.00508)" fill="#0000ff" stroke="#0000ff" stroke-width="0.22" vector-effect="non-scaling-stroke"/>
<path d="M515 0L515 1237L197 1010L197 1180L530 1409L696 1409L696 0Z" transform="translate(347.55,117.30) rotate(90) translate(5.766,0.000) scale(0.00508,-0.00508)" fill="#0000ff" stroke="#0000ff" stroke-width="0.22" vector-effect="non-scaling-stroke"/>
<path d="M515 0L515 1237L197 1010L197 1180L530 1409L696 1409L696 0Z" transform="translate(354.58,117.30) rotate(90) translate(0.000,0.000) scale(0.00508,-0.00508)" fill="#0000ff" stroke="#0000ff" stroke-width="0.22" vector-effect="non-scaling-stroke"/>
<path d="M515 0L515 1237L197 1010L197 1180L530 1409L696 1409L696 0Z" transform="translate(354.58,117.30) rotate(90) translate(5.766,0.000) scale(0.00508,-0.00508)" fill="#0000ff" stroke="#0000ff" stroke-width="0.22" vector-effect="non-scaling-stroke"/>
<path d="M515 0L515 1237L197 1010L197 1180L530 1409L696 1409L696 0Z" transform="translate(361.60,117.30) rotate(90) translate(0.000,0.000) scale(0.00508,-0.00508)" fill="#0000ff" stroke="#0000ff" stroke-width="0.22" vector-effect="non-scaling-stroke"/>
<path d="M515 0L515 1237L197 1010L197 1180L530 1409L696 1409L696 0Z" transform="translate(368.63,117.30) rotate(90) translate(0.000,0.000) scale(0.00508,-0.00508)" fill="#0000ff" stroke="#0000ff" stroke-width="0.22" vector-effect="non-scaling-stroke"/>
<path d="M515 0L515 1237L197 1010L197 1180L530 1409L696 1409L696 0Z" transform="translate(375.65,117.30) rotate(90) translate(0.000,0.000) scale(0.00508,-0.00508)" fill="#0000ff" stroke="#0000ff" stroke-width="0.22" vector-effect="non-scaling-stroke"/>
<path d="M515 0L515 1237L197 1010L197 1180L530 1409L696 1409L696 0Z" transform="translate(382.68,117.30) rotate(90) translate(0.000,0.000) scale(0.00508,-0.00508)" fill="#0000ff" stroke="#0000ff" stroke-width="0.22" vector-effect="non-scaling-stroke"/>
<path d="M515 0L515 1237L197 1010L197 1180L530 1409L696 1409L696 0Z" transform="translate(389.70,117.30) rotate(90) translate(0.000,0.000) scale(0.00508,-0.00508)" fill="#0000ff" stroke="#0000ff" stroke-width="0.22" vector-effect="non-scaling-stroke"/>
<path d="M515 0L515 1237L197 1010L197 1180L530 1409L696 1409L696 0Z" transform="translate(396.73,117.30) rotate(90) translate(0.000,0.000) scale(0.00508,-0.00508)" fill="#0000ff" stroke="#0000ff" stroke-width="0.22" vector-effect="non-scaling-stroke"/>
<path d="M515 0L515 1237L197 1010L197 1180L530 1409L696 1409L696 0Z" transform="translate(403.75,117.30) rotate(90) translate(0.000,0.000) scale(0.00508,-0.00508)" fill="#0000ff" stroke="#0000ff" stroke-width="0.22" vector-effect="non-scaling-stroke"/>
<path d="M515 0L515 1237L197 1010L197 1180L530 1409L696 1409L696 0Z" transform="translate(410.78,117.30) rotate(90) translate(0.000,0.000) scale(0.00508,-0.00508)" fill="#0000ff" stroke="#0000ff" stroke-width="0.22" vector-effect="non-scaling-stroke"/>
<path d="M515 0L515 1237L197 1010L197 1180L530 1409L696 1409L696 0Z" transform="translate(410.78,117.30) rotate(90) translate(11.547,0.000) scale(0.00508,-0.00508)" fill="#0000ff" stroke="#0000ff" stroke-width="0.22" vector-effect="non-scaling-stroke"/>
<path d="M515 0L515 1237L197 1010L197 1180L530 1409L696 1409L696 0Z" transform="translate(417.80,117.30) rotate(90) translate(0.000,0.000) scale(0.00508,-0.00508)" fill="#0000ff" stroke="#0000ff" stroke-width="0.22" vector-effect="non-scaling-stroke"/>
<path d="M515 0L515 1237L197 1010L197 1180L530 1409L696 1409L696 0Z" transform="translate(424.83,117.30) rotate(90) translate(0.000,0.000) scale(0.00508,-0.00508)" fill="#0000ff" stroke="#0000ff" stroke-width="0.22" vector-effect="non-scaling-stroke"/>
<path d="M515 0L515 1237L197 1010L197 1180L530 1409L696 1409L696 0Z" transform="translate(431.85,117.30) rotate(90) translate(0.000,0.000) scale(0.00508,-0.00508)" fill="#0000ff" stroke="#0000ff" stroke-width="0.22" vector-effect="non-scaling-stroke"/>
<path d="M515 0L515 1237L197 1010L197 1180L530 1409L696 1409L696 0Z" transform="translate(438.88,117.30) rotate(90) translate(0.000,0.000) scale(0.00508,-0.00508)" fill="#0000ff" stroke="#0000ff" stroke-width="0.22" vector-effect="non-scaling-stroke"/>
<path d="M515 0L515 1237L197 1010L197 1180L530 1409L696 1409L696 0Z" transform="translate(445.90,117.30) rotate(90) translate(0.000,0.000) scale(0.00508,-0.00508)" fill="#0000ff" stroke="#0000ff" stroke-width="0.22" vector-effect="non-scaling-stroke"/>
<path d="M515 0L515 1237L197 1010L197 1180L530 1409L696 1409L696 0Z" transform="translate(452.93,117.30) rotate(90) translate(0.000,0.000) scale(0.00508,-0.00508)" fill="#0000ff" stroke="#0000ff" stroke-width="0.22" vector-effect="non-scaling-stroke"/>
<path d="M515 0L515 1237L197 1010L197 1180L530 1409L696 1409L696 0Z" transform="translate(459.95,117.30) rotate(90) translate(0.000,0.000) scale(0.00508,-0.00508)" fill="#0000ff" stroke="#0000ff" stroke-width="0.22" vector-effect="non-scaling-stroke"/>
<path d="M515 0L515 1237L197 1010L197 1180L530 1409L696 1409L696 0Z" transform="translate(466.98,117.30) rotate(90) translate(0.000,0.000) scale(0.00508,-0.00508)" fill="#0000ff" stroke="#0000ff" stroke-width="0.22" vector-effect="non-scaling-stroke"/>
<path d="M515 0L515 1237L197 1010L197 1180L530 1409L696 1409L696 0Z" transform="translate(474.00,117.30) rotate(90) translate(0.000,0.000) scale(0.00508,-0.00508)" fill="#0000ff" stroke="#0000ff" stroke-width="0.22" vector-effect="non-scaling-stroke"/>
<path d="M515 0L515 1237L197 1010L197 1180L530 1409L696 1409L696 0Z" transform="translate(481.03,117.30) rotate(90) translate(0.000,0.000) scale(0.00508,-0.00508)" fill="#0000ff" stroke="#0000ff" stroke-width="0.22" vector-effect="non-scaling-stroke"/>
<path d="M515 0L515 1237L197 1010L197 1180L530 1409L696 1409L696 0Z" transform="translate(481.03,117.30) rotate(90) translate(11.547,0.000) scale(0.00508,-0.00508)" fill="#0000ff" stroke="#0000ff" stroke-width="0.22" vector-effect="non-scaling-stroke"/>
<path d="M515 0L515 1237L197 1010L197 1180L530 1409L696 1409L696 0Z" transform="translate(488.05,117.30) rotate(90) translate(0.000,0.000) scale(0.00508,-0.00508)" fill="#0000ff" stroke="#0000ff" stroke-width="0.22" vector-effect="non-scaling-stroke"/>
<path d="M515 0L515 1237L197 1010L197 1180L530 1409L696 1409L696 0Z" transform="translate(495.08,117.30) rotate(90) translate(0.000,0.000) scale(0.00508,-0.00508)" fill="#0000ff" stroke="#0000ff" stroke-width="0.22" vector-effect="non-scaling-stroke"/>
<path d="M515 0L515 1237L197 1010L197 1180L530 1409L696 1409L696 0Z" transform="translate(502.10,117.30) rotate(90) translate(0.000,0.000) scale(0.00508,-0.00508)" fill="#0000ff" stroke="#0000ff" stroke-width="0.22" vector-effect="non-scaling-stroke"/>
<path d="M515 0L515 1237L197 1010L197 1180L530 1409L696 1409L696 0Z" transform="translate(509.13,117.30) rotate(90) translate(0.000,0.000) scale(0.00508,-0.00508)" fill="#0000ff" stroke="#0000ff" stroke-width="0.22" vector-effect="non-scaling-stroke"/>
<path d="M515 0L515 1237L197 1010L197 1180L530 1409L696 1409L696 0Z" transform="translate(516.15,117.30) rotate(90) translate(0.000,0.000) scale(0.00508,-0.00508)" fill="#0000ff" stroke="#0000ff" stroke-width="0.22" vector-effect="non-scaling-stroke"/>
<path d="M515 0L515 1237L197 1010L197 1180L530 1409L696 1409L696 0Z" transform="translate(523.18,117.30) rotate(90) translate(0.000,0.000) scale(0.00508,-0.00508)" fill="#0000ff" stroke="#0000ff" stroke-width="0.22" vector-effect="non-scaling-stroke"/>
<path d="M515 0L515 1237L197 1010L197 1180L530 1409L696 1409L696 0Z" transform="translate(530.20,117.30) rotate(90) translate(0.000,0.000) scale(0.00508,-0.00508)" fill="#0000ff" stroke="#0000ff" stroke-width="0.22" vector-effect="non-scaling-stroke"/>
<path d="M515 0L515 1237L197 1010L197 1180L530 1409L696 1409L696 0Z" transform="translate(537.23,117.30) rotate(90) translate(0.000,0.000) scale(0.00508,-0.00508)" fill="#0000ff" stroke="#0000ff" stroke-width="0.22" vector-effect="non-scaling-stroke"/>
<path d="M515 0L515 1237L197 1010L197 1180L530 1409L696 1409L696 0Z" transform="translate(544.25,117.30) rotate(90) translate(0.000,0.000) scale(0.00508,-0.00508)" fill="#0000ff" stroke="#0000ff" stroke-width="0.22" vector-effect="non-scaling-stroke"/>
<path d="M515 0L515 1237L197 1010L197 1180L530 1409L696 1409L696 0Z" transform="translate(551.27,117.30) rotate(90) translate(11.547,0.000) scale(0.00508,-0.00508)" fill="#0000ff" stroke="#0000ff" stroke-width="0.22" vector-effect="non-scaling-stroke"/>
<path d="M515 0L515 1237L197 1010L197 1180L530 1409L696 1409L696 0Z" transform="translate(572.35,117.30) rotate(90) translate(5.766,0.000) scale(0.00508,-0.00508)" fill="#0000ff" stroke="#0000ff" stroke-width="0.22" vector-effect="non-scaling-stroke"/>
<path d="M515 0L515 1237L197 1010L197 1180L530 1409L696 1409L696 0Z" transform="translate(579.38,117.30) rotate(90) translate(5.766,0.000) scale(0.00508,-0.00508)" fill="#0000ff" stroke="#0000ff" stroke-width="0.22" vector-effect="non-scaling-stroke"/>
<path d="M515 0L515 1237L197 1010L197 1180L530 1409L696 1409L696 0Z" transform="translate(586.40,117.30) rotate(90) translate(5.766,0.000) scale(0.00508,-0.00508)" fill="#0000ff" stroke="#0000ff" stroke-width="0.22" vector-effect="non-scaling-stroke"/>
<path d="M515 0L515 1237L197 1010L197 1180L530 1409L696 1409L696 0Z" transform="translate(593.43,117.30) rotate(90) translate(5.766,0.000) scale(0.00508,-0.00508)" fill="#0000ff" stroke="#0000ff" stroke-width="0.22" vector-effect="non-scaling-stroke"/>
<path d="M515 0L515 1237L197 1010L197 1180L530 1409L696 1409L696 0Z" transform="translate(621.53,117.30) rotate(90) translate(11.547,0.000) scale(0.00508,-0.00508)" fill="#0000ff" stroke="#0000ff" stroke-width="0.22" vector-effect="non-scaling-stroke"/>
<path d="M515 0L515 1237L197 1010L197 1180L530 1409L696 1409L696 0Z" transform="translate(46.32,152.21) scale(1.0684,1) translate(0.000,0.000) scale(0.00674,-0.00674)" fill="#000"/>
<path d="M515 0L515 1237L197 1010L197 1180L530 1409L696 1409L696 0Z" transform="translate(87.91,167.70) scale(0.9796,1) translate(146.471,0.000) scale(0.00609,-0.00609)" fill="#000"/>
<path d="M515 0L515 1237L197 1010L197 1180L530 1409L696 1409L696 0Z" transform="translate(87.91,167.70) scale(0.9796,1) translate(163.787,0.000) scale(0.00609,-0.00609)" fill="#000"/>
<path d="M515 0L515 1237L197 1010L197 1180L530 1409L696 1409L696 0Z" transform="translate(110.04,262.70) scale(0.9861,1) translate(0.000,0.000) scale(0.00594,-0.00594)" fill="#000"/>
<path d="M515 0L515 1237L197 1010L197 1180L530 1409L696 1409L696 0Z" transform="translate(46.32,484.11) scale(1.0684,1) translate(0.000,0.000) scale(0.00674,-0.00674)" fill="#000"/>
<path d="M515 0L515 1237L197 1010L197 1180L530 1409L696 1409L696 0Z" transform="translate(42.55,602.16) scale(0.9995,1) translate(4.579,0.000) scale(0.00674,-0.00674)" fill="#000"/>
<path d="M515 0L515 1237L197 1010L197 1180L530 1409L696 1409L696 0Z" transform="translate(46.32,554.19) scale(1.0684,1) translate(0.000,0.000) scale(0.00674,-0.00674)" fill="#000"/>
<path d="M515 0L515 1237L197 1010L197 1180L530 1409L696 1409L696 0Z" transform="translate(35.83,720.21) scale(0.9694,1) translate(0.000,0.000) scale(0.00674,-0.00674)" fill="#000"/>
<path d="M515 0L515 1237L197 1010L197 1180L530 1409L696 1409L696 0Z" transform="translate(35.83,672.21) scale(0.9694,1) translate(0.000,0.000) scale(0.00674,-0.00674)" fill="#000"/>
<path d="M515 0L515 1237L197 1010L197 1180L530 1409L696 1409L696 0Z" transform="translate(35.83,672.21) scale(0.9694,1) translate(15.326,0.000) scale(0.00674,-0.00674)" fill="#000"/>
<path d="M515 0L515 1237L197 1010L197 1180L530 1409L696 1409L696 0Z" transform="translate(35.83,624.21) scale(0.9694,1) translate(0.000,0.000) scale(0.00674,-0.00674)" fill="#000"/>
<path d="M515 0L515 1237L197 1010L197 1180L530 1409L696 1409L696 0Z" transform="translate(104.70,719.80) rotate(90) translate(0.000,0.000) scale(0.00503,-0.00503)" fill="#0000ff" stroke="#0000ff" stroke-width="0.22" vector-effect="non-scaling-stroke"/>
<path d="M515 0L515 1237L197 1010L197 1180L530 1409L696 1409L696 0Z" transform="translate(111.72,719.80) rotate(90) translate(0.000,0.000) scale(0.00503,-0.00503)" fill="#0000ff" stroke="#0000ff" stroke-width="0.22" vector-effect="non-scaling-stroke"/>
<path d="M515 0L515 1237L197 1010L197 1180L530 1409L696 1409L696 0Z" transform="translate(118.75,719.80) rotate(90) translate(0.000,0.000) scale(0.00503,-0.00503)" fill="#0000ff" stroke="#0000ff" stroke-width="0.22" vector-effect="non-scaling-stroke"/>
<path d="M515 0L515 1237L197 1010L197 1180L530 1409L696 1409L696 0Z" transform="translate(125.78,719.80) rotate(90) translate(5.719,0.000) scale(0.00503,-0.00503)" fill="#0000ff" stroke="#0000ff" stroke-width="0.22" vector-effect="non-scaling-stroke"/>
<path d="M515 0L515 1237L197 1010L197 1180L530 1409L696 1409L696 0Z" transform="translate(160.90,719.80) rotate(90) translate(0.000,0.000) scale(0.00503,-0.00503)" fill="#0000ff" stroke="#0000ff" stroke-width="0.22" vector-effect="non-scaling-stroke"/>
<path d="M515 0L515 1237L197 1010L197 1180L530 1409L696 1409L696 0Z" transform="translate(167.92,719.80) rotate(90) translate(0.000,0.000) scale(0.00503,-0.00503)" fill="#0000ff" stroke="#0000ff" stroke-width="0.22" vector-effect="non-scaling-stroke"/>
<path d="M515 0L515 1237L197 1010L197 1180L530 1409L696 1409L696 0Z" transform="translate(174.95,719.80) rotate(90) translate(0.000,0.000) scale(0.00503,-0.00503)" fill="#0000ff" stroke="#0000ff" stroke-width="0.22" vector-effect="non-scaling-stroke"/>
<path d="M515 0L515 1237L197 1010L197 1180L530 1409L696 1409L696 0Z" transform="translate(181.97,719.80) rotate(90) translate(5.719,0.000) scale(0.00503,-0.00503)" fill="#0000ff" stroke="#0000ff" stroke-width="0.22" vector-effect="non-scaling-stroke"/>
<path d="M515 0L515 1237L197 1010L197 1180L530 1409L696 1409L696 0Z" transform="translate(217.10,719.80) rotate(90) translate(0.000,0.000) scale(0.00503,-0.00503)" fill="#0000ff" stroke="#0000ff" stroke-width="0.22" vector-effect="non-scaling-stroke"/>
<path d="M515 0L515 1237L197 1010L197 1180L530 1409L696 1409L696 0Z" transform="translate(224.12,719.80) rotate(90) translate(0.000,0.000) scale(0.00503,-0.00503)" fill="#0000ff" stroke="#0000ff" stroke-width="0.22" vector-effect="non-scaling-stroke"/>
<path d="M515 0L515 1237L197 1010L197 1180L530 1409L696 1409L696 0Z" transform="translate(231.15,719.80) rotate(90) translate(0.000,0.000) scale(0.00503,-0.00503)" fill="#0000ff" stroke="#0000ff" stroke-width="0.22" vector-effect="non-scaling-stroke"/>
<path d="M515 0L515 1237L197 1010L197 1180L530 1409L696 1409L696 0Z" transform="translate(238.18,719.80) rotate(90) translate(5.719,0.000) scale(0.00503,-0.00503)" fill="#0000ff" stroke="#0000ff" stroke-width="0.22" vector-effect="non-scaling-stroke"/>
<path d="M515 0L515 1237L197 1010L197 1180L530 1409L696 1409L696 0Z" transform="translate(273.30,719.80) rotate(90) translate(0.000,0.000) scale(0.00503,-0.00503)" fill="#0000ff" stroke="#0000ff" stroke-width="0.22" vector-effect="non-scaling-stroke"/>
<path d="M515 0L515 1237L197 1010L197 1180L530 1409L696 1409L696 0Z" transform="translate(280.33,719.80) rotate(90) translate(0.000,0.000) scale(0.00503,-0.00503)" fill="#0000ff" stroke="#0000ff" stroke-width="0.22" vector-effect="non-scaling-stroke"/>
<path d="M515 0L515 1237L197 1010L197 1180L530 1409L696 1409L696 0Z" transform="translate(287.35,719.80) rotate(90) translate(0.000,0.000) scale(0.00503,-0.00503)" fill="#0000ff" stroke="#0000ff" stroke-width="0.22" vector-effect="non-scaling-stroke"/>
<path d="M515 0L515 1237L197 1010L197 1180L530 1409L696 1409L696 0Z" transform="translate(294.38,719.80) rotate(90) translate(5.719,0.000) scale(0.00503,-0.00503)" fill="#0000ff" stroke="#0000ff" stroke-width="0.22" vector-effect="non-scaling-stroke"/>
<path d="M515 0L515 1237L197 1010L197 1180L530 1409L696 1409L696 0Z" transform="translate(329.50,719.80) rotate(90) translate(0.000,0.000) scale(0.00503,-0.00503)" fill="#0000ff" stroke="#0000ff" stroke-width="0.22" vector-effect="non-scaling-stroke"/>
<path d="M515 0L515 1237L197 1010L197 1180L530 1409L696 1409L696 0Z" transform="translate(336.53,719.80) rotate(90) translate(0.000,0.000) scale(0.00503,-0.00503)" fill="#0000ff" stroke="#0000ff" stroke-width="0.22" vector-effect="non-scaling-stroke"/>
<path d="M515 0L515 1237L197 1010L197 1180L530 1409L696 1409L696 0Z" transform="translate(343.55,719.80) rotate(90) translate(0.000,0.000) scale(0.00503,-0.00503)" fill="#0000ff" stroke="#0000ff" stroke-width="0.22" vector-effect="non-scaling-stroke"/>
<path d="M515 0L515 1237L197 1010L197 1180L530 1409L696 1409L696 0Z" transform="translate(350.58,719.80) rotate(90) translate(5.719,0.000) scale(0.00503,-0.00503)" fill="#0000ff" stroke="#0000ff" stroke-width="0.22" vector-effect="non-scaling-stroke"/>
<path d="M515 0L515 1237L197 1010L197 1180L530 1409L696 1409L696 0Z" transform="translate(385.70,719.80) rotate(90) translate(0.000,0.000) scale(0.00503,-0.00503)" fill="#0000ff" stroke="#0000ff" stroke-width="0.22" vector-effect="non-scaling-stroke"/>
<path d="M515 0L515 1237L197 1010L197 1180L530 1409L696 1409L696 0Z" transform="translate(392.73,719.80) rotate(90) translate(0.000,0.000) scale(0.00503,-0.00503)" fill="#0000ff" stroke="#0000ff" stroke-width="0.22" vector-effect="non-scaling-stroke"/>
<path d="M515 0L515 1237L197 1010L197 1180L530 1409L696 1409L696 0Z" transform="translate(399.75,719.80) rotate(90) translate(0.000,0.000) scale(0.00503,-0.00503)" fill="#0000ff" stroke="#0000ff" stroke-width="0.22" vector-effect="non-scaling-stroke"/>
<path d="M515 0L515 1237L197 1010L197 1180L530 1409L696 1409L696 0Z" transform="translate(406.78,719.80) rotate(90) translate(5.719,0.000) scale(0.00503,-0.00503)" fill="#0000ff" stroke="#0000ff" stroke-width="0.22" vector-effect="non-scaling-stroke"/>
<path d="M515 0L515 1237L197 1010L197 1180L530 1409L696 1409L696 0Z" transform="translate(441.90,719.80) rotate(90) translate(0.000,0.000) scale(0.00503,-0.00503)" fill="#0000ff" stroke="#0000ff" stroke-width="0.22" vector-effect="non-scaling-stroke"/>
<path d="M515 0L515 1237L197 1010L197 1180L530 1409L696 1409L696 0Z" transform="translate(448.93,719.80) rotate(90) translate(0.000,0.000) scale(0.00503,-0.00503)" fill="#0000ff" stroke="#0000ff" stroke-width="0.22" vector-effect="non-scaling-stroke"/>
<path d="M515 0L515 1237L197 1010L197 1180L530 1409L696 1409L696 0Z" transform="translate(455.95,719.80) rotate(90) translate(0.000,0.000) scale(0.00503,-0.00503)" fill="#0000ff" stroke="#0000ff" stroke-width="0.22" vector-effect="non-scaling-stroke"/>
<path d="M515 0L515 1237L197 1010L197 1180L530 1409L696 1409L696 0Z" transform="translate(462.98,719.80) rotate(90) translate(5.719,0.000) scale(0.00503,-0.00503)" fill="#0000ff" stroke="#0000ff" stroke-width="0.22" vector-effect="non-scaling-stroke"/>
<path d="M515 0L515 1237L197 1010L197 1180L530 1409L696 1409L696 0Z" transform="translate(498.10,719.80) rotate(90) translate(0.000,0.000) scale(0.00503,-0.00503)" fill="#0000ff" stroke="#0000ff" stroke-width="0.22" vector-effect="non-scaling-stroke"/>
<path d="M515 0L515 1237L197 1010L197 1180L530 1409L696 1409L696 0Z" transform="translate(505.13,719.80) rotate(90) translate(0.000,0.000) scale(0.00503,-0.00503)" fill="#0000ff" stroke="#0000ff" stroke-width="0.22" vector-effect="non-scaling-stroke"/>
<path d="M515 0L515 1237L197 1010L197 1180L530 1409L696 1409L696 0Z" transform="translate(512.15,719.80) rotate(90) translate(0.000,0.000) scale(0.00503,-0.00503)" fill="#0000ff" stroke="#0000ff" stroke-width="0.22" vector-effect="non-scaling-stroke"/>
<path d="M515 0L515 1237L197 1010L197 1180L530 1409L696 1409L696 0Z" transform="translate(519.18,719.80) rotate(90) translate(5.719,0.000) scale(0.00503,-0.00503)" fill="#0000ff" stroke="#0000ff" stroke-width="0.22" vector-effect="non-scaling-stroke"/>
<path d="M515 0L515 1237L197 1010L197 1180L530 1409L696 1409L696 0Z" transform="translate(554.30,719.80) rotate(90) translate(0.000,0.000) scale(0.00503,-0.00503)" fill="#0000ff" stroke="#0000ff" stroke-width="0.22" vector-effect="non-scaling-stroke"/>
<path d="M515 0L515 1237L197 1010L197 1180L530 1409L696 1409L696 0Z" transform="translate(561.33,719.80) rotate(90) translate(0.000,0.000) scale(0.00503,-0.00503)" fill="#0000ff" stroke="#0000ff" stroke-width="0.22" vector-effect="non-scaling-stroke"/>
<path d="M515 0L515 1237L197 1010L197 1180L530 1409L696 1409L696 0Z" transform="translate(568.35,719.80) rotate(90) translate(0.000,0.000) scale(0.00503,-0.00503)" fill="#0000ff" stroke="#0000ff" stroke-width="0.22" vector-effect="non-scaling-stroke"/>
<path d="M515 0L515 1237L197 1010L197 1180L530 1409L696 1409L696 0Z" transform="translate(575.38,719.80) rotate(90) translate(5.719,0.000) scale(0.00503,-0.00503)" fill="#0000ff" stroke="#0000ff" stroke-width="0.22" vector-effect="non-scaling-stroke"/>
<path d="M515 0L515 1237L197 1010L197 1180L530 1409L696 1409L696 0Z" transform="translate(610.50,719.80) rotate(90) translate(0.000,0.000) scale(0.00503,-0.00503)" fill="#0000ff" stroke="#0000ff" stroke-width="0.22" vector-effect="non-scaling-stroke"/>
<path d="M515 0L515 1237L197 1010L197 1180L530 1409L696 1409L696 0Z" transform="translate(617.53,719.80) rotate(90) translate(0.000,0.000) scale(0.00503,-0.00503)" fill="#0000ff" stroke="#0000ff" stroke-width="0.22" vector-effect="non-scaling-stroke"/>
<path d="M515 0L515 1237L197 1010L197 1180L530 1409L696 1409L696 0Z" transform="translate(624.55,719.80) rotate(90) translate(0.000,0.000) scale(0.00503,-0.00503)" fill="#0000ff" stroke="#0000ff" stroke-width="0.22" vector-effect="non-scaling-stroke"/>
<path d="M515 0L515 1237L197 1010L197 1180L530 1409L696 1409L696 0Z" transform="translate(631.58,719.80) rotate(90) translate(5.719,0.000) scale(0.00503,-0.00503)" fill="#0000ff" stroke="#0000ff" stroke-width="0.22" vector-effect="non-scaling-stroke"/>
<path d="M515 0L515 1237L197 1010L197 1180L530 1409L696 1409L696 0Z" transform="translate(314.04,762.00) scale(1.0098,1) translate(0.000,0.000) scale(0.00580,-0.00580)" fill="#0000ff"/>
<path d="M515 0L515 1237L197 1010L197 1180L530 1409L696 1409L696 0Z" transform="translate(369.41,763.80) scale(1.0458,1) translate(0.000,0.000) scale(0.00580,-0.00580)" fill="#0000ff"/>
<path d="M515 0L515 1237L197 1010L197 1180L530 1409L696 1409L696 0Z" transform="translate(369.41,763.80) scale(1.0458,1) translate(6.597,0.000) scale(0.00580,-0.00580)" fill="#0000ff"/>
<path d="M515 0L515 1237L197 1010L197 1180L530 1409L696 1409L696 0Z" transform="translate(425.91,764.90) scale(1.0361,1) translate(0.000,0.000) scale(0.00580,-0.00580)" fill="#0000ff"/>
<path d="M515 0L515 1237L197 1010L197 1180L530 1409L696 1409L696 0Z" transform="translate(481.41,765.90) scale(1.0439,1) translate(0.000,0.000) scale(0.00580,-0.00580)" fill="#0000ff"/>
<path d="M515 0L515 1237L197 1010L197 1180L530 1409L696 1409L696 0Z" transform="translate(538.95,767.70) scale(1.0019,1) translate(0.000,0.000) scale(0.00580,-0.00580)" fill="#0000ff"/>
<path d="M515 0L515 1237L197 1010L197 1180L530 1409L696 1409L696 0Z" transform="translate(594.73,758.60) scale(1.0229,1) translate(0.000,0.000) scale(0.00580,-0.00580)" fill="#0000ff"/>
<path d="M515 0L515 1237L197 1010L197 1180L530 1409L696 1409L696 0Z" transform="translate(94.85,356.6) rotate(90) translate(-5.781,0.000) scale(0.00508,-0.00508)" fill="#000" stroke="#000" stroke-width="0.22" vector-effect="non-scaling-stroke"/>
<path d="M515 0L515 1237L197 1010L197 1180L530 1409L696 1409L696 0Z" transform="translate(115.92,341.65) rotate(90) translate(-17.344,0.000) scale(0.00508,-0.00508)" fill="#000" stroke="#000" stroke-width="0.22" vector-effect="non-scaling-stroke"/>
<path d="M515 0L515 1237L197 1010L197 1180L530 1409L696 1409L696 0Z" transform="translate(115.92,356.6) rotate(90) translate(-5.781,0.000) scale(0.00508,-0.00508)" fill="#000" stroke="#000" stroke-width="0.22" vector-effect="non-scaling-stroke"/>
<path d="M515 0L515 1237L197 1010L197 1180L530 1409L696 1409L696 0Z" transform="translate(122.95,341.65) rotate(90) translate(-17.344,0.000) scale(0.00508,-0.00508)" fill="#000" stroke="#000" stroke-width="0.22" vector-effect="non-scaling-stroke"/>
<path d="M515 0L515 1237L197 1010L197 1180L530 1409L696 1409L696 0Z" transform="translate(129.98,356.6) rotate(90) translate(-5.781,0.000) scale(0.00508,-0.00508)" fill="#000" stroke="#000" stroke-width="0.22" vector-effect="non-scaling-stroke"/>
<path d="M515 0L515 1237L197 1010L197 1180L530 1409L696 1409L696 0Z" transform="translate(151.05,356.6) rotate(90) translate(-5.781,0.000) scale(0.00508,-0.00508)" fill="#000" stroke="#000" stroke-width="0.22" vector-effect="non-scaling-stroke"/>
<path d="M515 0L515 1237L197 1010L197 1180L530 1409L696 1409L696 0Z" transform="translate(158.08,356.6) rotate(90) translate(-5.781,0.000) scale(0.00508,-0.00508)" fill="#000" stroke="#000" stroke-width="0.22" vector-effect="non-scaling-stroke"/>
<path d="M515 0L515 1237L197 1010L197 1180L530 1409L696 1409L696 0Z" transform="translate(172.12,356.6) rotate(90) translate(-5.781,0.000) scale(0.00508,-0.00508)" fill="#000" stroke="#000" stroke-width="0.22" vector-effect="non-scaling-stroke"/>
<path d="M515 0L515 1237L197 1010L197 1180L530 1409L696 1409L696 0Z" transform="translate(179.15,356.6) rotate(90) translate(-5.781,0.000) scale(0.00508,-0.00508)" fill="#000" stroke="#000" stroke-width="0.22" vector-effect="non-scaling-stroke"/>
<path d="M515 0L515 1237L197 1010L197 1180L530 1409L696 1409L696 0Z" transform="translate(207.25,341.65) rotate(90) translate(-11.578,0.000) scale(0.00508,-0.00508)" fill="#000" stroke="#000" stroke-width="0.22" vector-effect="non-scaling-stroke"/>
<path d="M515 0L515 1237L197 1010L197 1180L530 1409L696 1409L696 0Z" transform="translate(221.30,356.6) rotate(90) translate(-5.781,0.000) scale(0.00508,-0.00508)" fill="#000" stroke="#000" stroke-width="0.22" vector-effect="non-scaling-stroke"/>
<path d="M515 0L515 1237L197 1010L197 1180L530 1409L696 1409L696 0Z" transform="translate(235.35,356.6) rotate(90) translate(-5.781,0.000) scale(0.00508,-0.00508)" fill="#000" stroke="#000" stroke-width="0.22" vector-effect="non-scaling-stroke"/>
<path d="M515 0L515 1237L197 1010L197 1180L530 1409L696 1409L696 0Z" transform="translate(242.38,356.6) rotate(90) translate(-5.781,0.000) scale(0.00508,-0.00508)" fill="#000" stroke="#000" stroke-width="0.22" vector-effect="non-scaling-stroke"/>
<path d="M515 0L515 1237L197 1010L197 1180L530 1409L696 1409L696 0Z" transform="translate(263.45,341.65) rotate(90) translate(-11.562,0.000) scale(0.00508,-0.00508)" fill="#000" stroke="#000" stroke-width="0.22" vector-effect="non-scaling-stroke"/>
<path d="M515 0L515 1237L197 1010L197 1180L530 1409L696 1409L696 0Z" transform="translate(263.45,341.65) rotate(90) translate(-5.797,0.000) scale(0.00508,-0.00508)" fill="#000" stroke="#000" stroke-width="0.22" vector-effect="non-scaling-stroke"/>
<path d="M515 0L515 1237L197 1010L197 1180L530 1409L696 1409L696 0Z" transform="translate(263.45,356.6) rotate(90) translate(-5.781,0.000) scale(0.00508,-0.00508)" fill="#000" stroke="#000" stroke-width="0.22" vector-effect="non-scaling-stroke"/>
<path d="M515 0L515 1237L197 1010L197 1180L530 1409L696 1409L696 0Z" transform="translate(284.53,356.6) rotate(90) translate(-11.562,0.000) scale(0.00508,-0.00508)" fill="#000" stroke="#000" stroke-width="0.22" vector-effect="non-scaling-stroke"/>
<path d="M515 0L515 1237L197 1010L197 1180L530 1409L696 1409L696 0Z" transform="translate(298.57,341.65) rotate(90) translate(-11.578,0.000) scale(0.00508,-0.00508)" fill="#000" stroke="#000" stroke-width="0.22" vector-effect="non-scaling-stroke"/>
<path d="M515 0L515 1237L197 1010L197 1180L530 1409L696 1409L696 0Z" transform="translate(319.65,341.65) rotate(90) translate(-11.578,0.000) scale(0.00508,-0.00508)" fill="#000" stroke="#000" stroke-width="0.22" vector-effect="non-scaling-stroke"/>
<path d="M515 0L515 1237L197 1010L197 1180L530 1409L696 1409L696 0Z" transform="translate(333.70,341.65) rotate(90) translate(-11.578,0.000) scale(0.00508,-0.00508)" fill="#000" stroke="#000" stroke-width="0.22" vector-effect="non-scaling-stroke"/>
<path d="M515 0L515 1237L197 1010L197 1180L530 1409L696 1409L696 0Z" transform="translate(340.73,356.6) rotate(90) translate(-11.562,0.000) scale(0.00508,-0.00508)" fill="#000" stroke="#000" stroke-width="0.22" vector-effect="non-scaling-stroke"/>
<path d="M515 0L515 1237L197 1010L197 1180L530 1409L696 1409L696 0Z" transform="translate(354.78,341.65) rotate(90) translate(-11.578,0.000) scale(0.00508,-0.00508)" fill="#000" stroke="#000" stroke-width="0.22" vector-effect="non-scaling-stroke"/>
<path d="M515 0L515 1237L197 1010L197 1180L530 1409L696 1409L696 0Z" transform="translate(396.93,341.65) rotate(90) translate(-17.344,0.000) scale(0.00508,-0.00508)" fill="#000" stroke="#000" stroke-width="0.22" vector-effect="non-scaling-stroke"/>
<path d="M515 0L515 1237L197 1010L197 1180L530 1409L696 1409L696 0Z" transform="translate(410.98,341.65) rotate(90) translate(-5.797,0.000) scale(0.00508,-0.00508)" fill="#000" stroke="#000" stroke-width="0.22" vector-effect="non-scaling-stroke"/>
<path d="M515 0L515 1237L197 1010L197 1180L530 1409L696 1409L696 0Z" transform="translate(446.10,341.65) rotate(90) translate(-5.797,0.000) scale(0.00508,-0.00508)" fill="#000" stroke="#000" stroke-width="0.22" vector-effect="non-scaling-stroke"/>
<path d="M515 0L515 1237L197 1010L197 1180L530 1409L696 1409L696 0Z" transform="translate(453.13,341.65) rotate(90) translate(-17.344,0.000) scale(0.00508,-0.00508)" fill="#000" stroke="#000" stroke-width="0.22" vector-effect="non-scaling-stroke"/>
<path d="M515 0L515 1237L197 1010L197 1180L530 1409L696 1409L696 0Z" transform="translate(453.13,356.6) rotate(90) translate(-5.781,0.000) scale(0.00508,-0.00508)" fill="#000" stroke="#000" stroke-width="0.22" vector-effect="non-scaling-stroke"/>
<path d="M515 0L515 1237L197 1010L197 1180L530 1409L696 1409L696 0Z" transform="translate(460.15,341.65) rotate(90) translate(-17.344,0.000) scale(0.00508,-0.00508)" fill="#000" stroke="#000" stroke-width="0.22" vector-effect="non-scaling-stroke"/>
<path d="M515 0L515 1237L197 1010L197 1180L530 1409L696 1409L696 0Z" transform="translate(467.18,341.65) rotate(90) translate(-17.344,0.000) scale(0.00508,-0.00508)" fill="#000" stroke="#000" stroke-width="0.22" vector-effect="non-scaling-stroke"/>
<path d="M515 0L515 1237L197 1010L197 1180L530 1409L696 1409L696 0Z" transform="translate(467.18,356.6) rotate(90) translate(-5.781,0.000) scale(0.00508,-0.00508)" fill="#000" stroke="#000" stroke-width="0.22" vector-effect="non-scaling-stroke"/>
<path d="M515 0L515 1237L197 1010L197 1180L530 1409L696 1409L696 0Z" transform="translate(586.60,341.65) rotate(90) translate(-5.797,0.000) scale(0.00508,-0.00508)" fill="#000" stroke="#000" stroke-width="0.22" vector-effect="non-scaling-stroke"/>
<path d="M515 0L515 1237L197 1010L197 1180L530 1409L696 1409L696 0Z" transform="translate(607.67,341.65) rotate(90) translate(-5.797,0.000) scale(0.00508,-0.00508)" fill="#000" stroke="#000" stroke-width="0.22" vector-effect="non-scaling-stroke"/>
<path d="M515 0L515 1237L197 1010L197 1180L530 1409L696 1409L696 0Z" transform="translate(614.70,341.65) rotate(90) translate(-11.578,0.000) scale(0.00508,-0.00508)" fill="#000" stroke="#000" stroke-width="0.22" vector-effect="non-scaling-stroke"/>
<path d="M515 0L515 1237L197 1010L197 1180L530 1409L696 1409L696 0Z" transform="translate(621.73,341.65) rotate(90) translate(-5.797,0.000) scale(0.00508,-0.00508)" fill="#000" stroke="#000" stroke-width="0.22" vector-effect="non-scaling-stroke"/>
<path d="M515 0L515 1237L197 1010L197 1180L530 1409L696 1409L696 0Z" transform="translate(628.75,341.65) rotate(90) translate(-11.562,0.000) scale(0.00508,-0.00508)" fill="#000" stroke="#000" stroke-width="0.22" vector-effect="non-scaling-stroke"/>
<path d="M515 0L515 1237L197 1010L197 1180L530 1409L696 1409L696 0Z" transform="translate(635.77,341.65) rotate(90) translate(-5.797,0.000) scale(0.00508,-0.00508)" fill="#000" stroke="#000" stroke-width="0.22" vector-effect="non-scaling-stroke"/>
<path d="M515 0L515 1237L197 1010L197 1180L530 1409L696 1409L696 0Z" transform="translate(635.77,356.6) rotate(90) translate(-5.781,0.000) scale(0.00508,-0.00508)" fill="#000" stroke="#000" stroke-width="0.22" vector-effect="non-scaling-stroke"/>
<path d="M515 0L515 1237L197 1010L197 1180L530 1409L696 1409L696 0Z" transform="translate(642.80,356.6) rotate(90) translate(-5.781,0.000) scale(0.00508,-0.00508)" fill="#000" stroke="#000" stroke-width="0.22" vector-effect="non-scaling-stroke"/>
</svg></body></html>
